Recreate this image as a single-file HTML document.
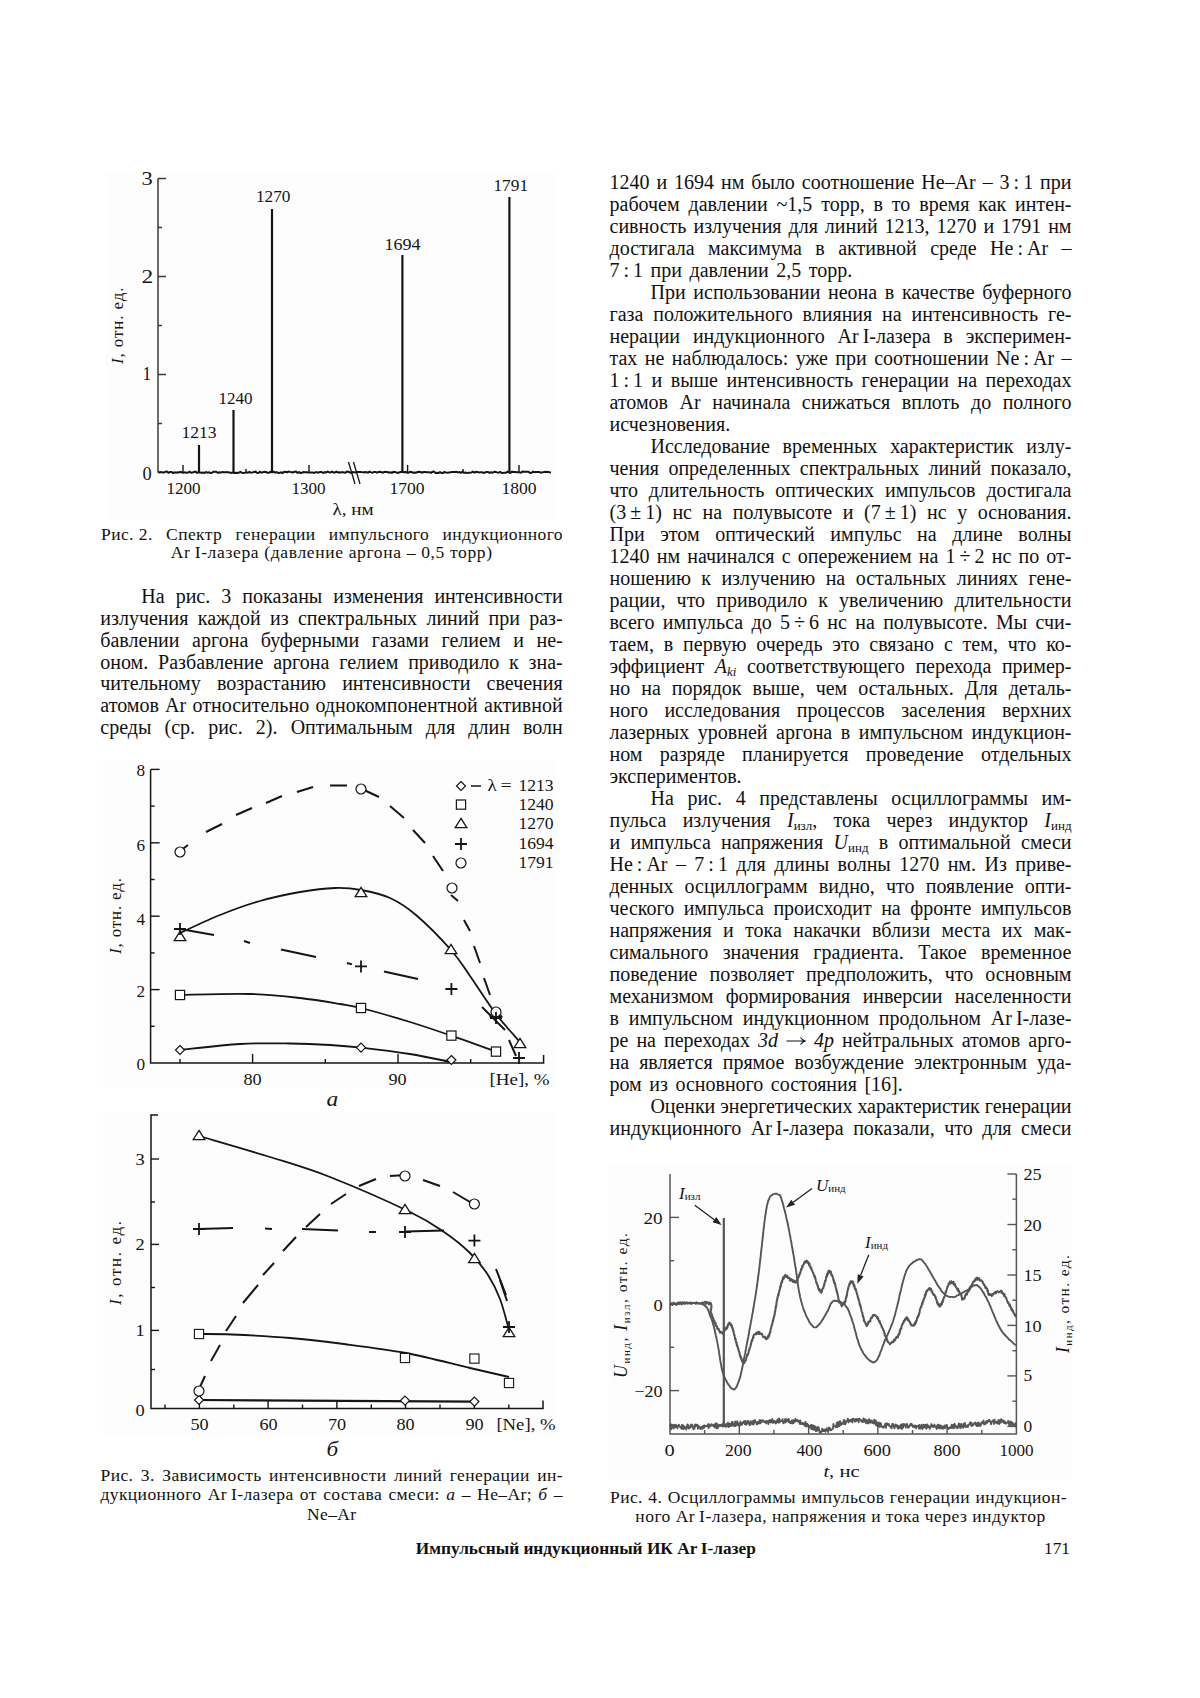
<!DOCTYPE html>
<html><head><meta charset="utf-8"><style>
html,body{margin:0;padding:0;background:#fff;}
body{width:1200px;height:1698px;position:relative;overflow:hidden;font-family:"Liberation Serif",serif;color:#111;}
.ln{position:absolute;white-space:nowrap;font-size:20px;line-height:22px;height:22px;}
.j{text-align:justify;text-align-last:justify;}
.l{text-align:left;word-spacing:2.5px;}
sub{font-size:13px;vertical-align:-3px;line-height:0;}
.cap{position:absolute;font-size:17.5px;line-height:19px;height:19px;white-space:nowrap;letter-spacing:0.4px;}
svg{position:absolute;left:0;top:0;}
</style></head><body>

<div class="ln j" style="left:609.5px;top:170.85px;width:462.0px">1240 и 1694 нм было соотношение He–Ar – 3&thinsp;:&thinsp;1 при</div>
<div class="ln j" style="left:609.5px;top:192.85px;width:462.0px">рабочем давлении ~1,5 торр, в то время как интен-</div>
<div class="ln j" style="left:609.5px;top:214.85px;width:462.0px">сивность излучения для линий 1213, 1270 и 1791 нм</div>
<div class="ln j" style="left:609.5px;top:236.85px;width:462.0px">достигала максимума в активной среде He&thinsp;:&thinsp;Ar –</div>
<div class="ln l" style="left:609.5px;top:258.85px;width:462.0px">7&thinsp;:&thinsp;1 при давлении 2,5 торр.</div>
<div class="ln j" style="left:650.5px;top:280.85px;width:421.0px">При использовании неона в качестве буферного</div>
<div class="ln j" style="left:609.5px;top:302.85px;width:462.0px">газа положительного влияния на интенсивность ге-</div>
<div class="ln j" style="left:609.5px;top:324.85px;width:462.0px">нерации индукционного Ar&thinsp;I-лазера в эксперимен-</div>
<div class="ln j" style="left:609.5px;top:346.85px;width:462.0px">тах не наблюдалось: уже при соотношении Ne&thinsp;:&thinsp;Ar –</div>
<div class="ln j" style="left:609.5px;top:368.85px;width:462.0px">1&thinsp;:&thinsp;1 и выше интенсивность генерации на переходах</div>
<div class="ln j" style="left:609.5px;top:390.85px;width:462.0px">атомов Ar начинала снижаться вплоть до полного</div>
<div class="ln l" style="left:609.5px;top:412.85px;width:462.0px">исчезновения.</div>
<div class="ln j" style="left:650.5px;top:434.85px;width:421.0px">Исследование временных характеристик излу-</div>
<div class="ln j" style="left:609.5px;top:456.85px;width:462.0px">чения определенных спектральных линий показало,</div>
<div class="ln j" style="left:609.5px;top:478.85px;width:462.0px">что длительность оптических импульсов достигала</div>
<div class="ln j" style="left:609.5px;top:500.85px;width:462.0px">(3&thinsp;±&thinsp;1) нс на полувысоте и (7&thinsp;±&thinsp;1) нс у основания.</div>
<div class="ln j" style="left:609.5px;top:522.85px;width:462.0px">При этом оптический импульс на длине волны</div>
<div class="ln j" style="left:609.5px;top:544.85px;width:462.0px">1240 нм начинался с опережением на 1&thinsp;÷&thinsp;2 нс по от-</div>
<div class="ln j" style="left:609.5px;top:566.85px;width:462.0px">ношению к излучению на остальных линиях гене-</div>
<div class="ln j" style="left:609.5px;top:588.85px;width:462.0px">рации, что приводило к увеличению длительности</div>
<div class="ln j" style="left:609.5px;top:610.85px;width:462.0px">всего импульса до 5&thinsp;÷&thinsp;6 нс на полувысоте. Мы счи-</div>
<div class="ln j" style="left:609.5px;top:632.85px;width:462.0px">таем, в первую очередь это связано с тем, что ко-</div>
<div class="ln j" style="left:609.5px;top:654.85px;width:462.0px">эффициент <i>A</i><sub><i>ki</i></sub> соответствующего перехода пример-</div>
<div class="ln j" style="left:609.5px;top:676.85px;width:462.0px">но на порядок выше, чем остальных. Для деталь-</div>
<div class="ln j" style="left:609.5px;top:698.85px;width:462.0px">ного исследования процессов заселения верхних</div>
<div class="ln j" style="left:609.5px;top:720.85px;width:462.0px">лазерных уровней аргона в импульсном индукцион-</div>
<div class="ln j" style="left:609.5px;top:742.85px;width:462.0px">ном разряде планируется проведение отдельных</div>
<div class="ln l" style="left:609.5px;top:764.85px;width:462.0px">экспериментов.</div>
<div class="ln j" style="left:650.5px;top:786.85px;width:421.0px">На рис. 4 представлены осциллограммы им-</div>
<div class="ln j" style="left:609.5px;top:808.85px;width:462.0px">пульса излучения <i>I</i><sub>изл</sub>, тока через индуктор <i>I</i><sub>инд</sub></div>
<div class="ln j" style="left:609.5px;top:830.85px;width:462.0px">и импульса напряжения <i>U</i><sub>инд</sub> в оптимальной смеси</div>
<div class="ln j" style="left:609.5px;top:852.85px;width:462.0px">He&thinsp;:&thinsp;Ar – 7&thinsp;:&thinsp;1 для длины волны 1270 нм. Из приве-</div>
<div class="ln j" style="left:609.5px;top:874.85px;width:462.0px">денных осциллограмм видно, что появление опти-</div>
<div class="ln j" style="left:609.5px;top:896.85px;width:462.0px">ческого импульса происходит на фронте импульсов</div>
<div class="ln j" style="left:609.5px;top:918.85px;width:462.0px">напряжения и тока накачки вблизи места их мак-</div>
<div class="ln j" style="left:609.5px;top:940.85px;width:462.0px">симального значения градиента. Такое временное</div>
<div class="ln j" style="left:609.5px;top:962.85px;width:462.0px">поведение позволяет предположить, что основным</div>
<div class="ln j" style="left:609.5px;top:984.85px;width:462.0px">механизмом формирования инверсии населенности</div>
<div class="ln j" style="left:609.5px;top:1006.85px;width:462.0px">в импульсном индукционном продольном Ar&thinsp;I-лазе-</div>
<div class="ln j" style="left:609.5px;top:1028.85px;width:462.0px">ре на переходах <i>3d</i> <svg width='20' height='10' viewBox='0 0 20 10' style='position:static;vertical-align:1px'><path d='M0.5,5 H18.5 M14.5,1.5 Q16.5,4.2 19.2,5 Q16.5,5.8 14.5,8.5' stroke='#111' stroke-width='1.1' fill='none'/></svg> <i>4p</i> нейтральных атомов арго-</div>
<div class="ln j" style="left:609.5px;top:1050.85px;width:462.0px">на является прямое возбуждение электронным уда-</div>
<div class="ln l" style="left:609.5px;top:1072.85px;width:462.0px">ром из основного состояния [16].</div>
<div class="ln j" style="left:650.5px;top:1094.85px;width:421.0px"><span style="letter-spacing:-0.08px">Оценки энергетических характеристик генерации</span></div>
<div class="ln j" style="left:609.5px;top:1116.85px;width:462.0px">индукционного Ar&thinsp;I-лазера показали, что для смеси</div>
<div class="ln j" style="left:141.3px;top:584.95px;width:421.4px">На рис. 3 показаны изменения интенсивности</div>
<div class="ln j" style="left:100.3px;top:606.80px;width:462.4px">излучения каждой из спектральных линий при раз-</div>
<div class="ln j" style="left:100.3px;top:628.65px;width:462.4px">бавлении аргона буферными газами гелием и не-</div>
<div class="ln j" style="left:100.3px;top:650.50px;width:462.4px">оном. Разбавление аргона гелием приводило к зна-</div>
<div class="ln j" style="left:100.3px;top:672.35px;width:462.4px">чительному возрастанию интенсивности свечения</div>
<div class="ln j" style="left:100.3px;top:694.20px;width:462.4px">атомов Ar относительно однокомпонентной активной</div>
<div class="ln j" style="left:100.3px;top:716.05px;width:462.4px">среды (ср. рис. 2). Оптимальным для длин волн</div>
<div class="cap j" style="left:101px;top:525.0px;width:462px">Рис.<span style="display:inline-block;width:5px"></span>2. Спектр генерации импульсного индукционного</div>
<div class="cap" style="left:100.5px;top:543.2px;width:462.5px;text-align:center;letter-spacing:0.65px">Ar&thinsp;I-лазера (давление аргона – 0,5 торр)</div>
<div class="cap j" style="left:100.5px;top:1465.6px;width:462.5px">Рис. 3. Зависимость интенсивности линий генерации ин-</div>
<div class="cap j" style="left:100.5px;top:1485.3px;width:462.5px">дукционного Ar&thinsp;I-лазера от состава смеси: <i>а</i> – He–Ar; <i>б</i> –</div>
<div class="cap" style="left:100.5px;top:1504.6px;width:462.5px;text-align:center;letter-spacing:0.4px">Ne–Ar</div>
<div class="cap j" style="left:610px;top:1487.6px;width:457px">Рис. 4. Осциллограммы импульсов генерации индукцион-</div>
<div class="cap" style="left:610px;top:1506.6px;width:461px;text-align:center;letter-spacing:0.48px">ного Ar&thinsp;I-лазера, напряжения и тока через индуктор</div>
<div style="position:absolute;left:415.8px;top:1539px;font-size:17.3px;line-height:19px;font-weight:bold;white-space:nowrap">Импульсный индукционный ИК Ar&thinsp;I-лазер</div>
<div style="position:absolute;left:1044px;top:1539px;font-size:17.3px;line-height:19px;white-space:nowrap">171</div>
<svg width="1200" height="1698" viewBox="0 0 1200 1698" style="font-family:'Liberation Serif',serif" fill="none" stroke="#151515">
<rect x="106" y="171" width="451" height="348" fill="#fdfdfd" stroke="none"/>
<rect x="103" y="761" width="455" height="327" fill="#fdfdfd" stroke="none"/>
<rect x="103" y="1112" width="455" height="322" fill="#fdfdfd" stroke="none"/>
<rect x="609" y="1164" width="462" height="316" fill="#fdfdfd" stroke="none"/>
<path d="M158,178.5 V472.5" stroke-width="1.5" stroke="#3a3a3a"/>
<path d="M158,178.5 h8" stroke-width="1.5" stroke="#3a3a3a"/>
<path d="M158,227.5 h4" stroke-width="1.5" stroke="#3a3a3a"/>
<path d="M158,276.5 h8" stroke-width="1.5" stroke="#3a3a3a"/>
<path d="M158,325.5 h4" stroke-width="1.5" stroke="#3a3a3a"/>
<path d="M158,374.5 h8" stroke-width="1.5" stroke="#3a3a3a"/>
<path d="M158,423.5 h4" stroke-width="1.5" stroke="#3a3a3a"/>
<path d="M158.0,471.93 L159.5,472.36 L161.0,472.12 L162.5,472.45 L164.0,472.48 L165.5,471.69 L167.0,471.62 L168.5,472.77 L170.0,471.96 L171.5,471.93 L173.0,472.99 L174.5,472.26 L176.0,472.77 L177.5,472.27 L179.0,472.49 L180.5,471.81 L182.0,472.49 L183.5,472.82 L185.0,472.33 L186.5,472.64 L188.0,472.54 L189.5,471.69 L191.0,472.66 L192.5,472.43 L194.0,472.02 L195.5,471.64 L197.0,472.81 L198.5,472.26 L200.0,472.61 L201.5,472.83 L203.0,472.60 L204.5,472.89 L206.0,472.15 L207.5,472.72 L209.0,472.22 L210.5,472.91 L212.0,472.83 L213.5,471.74 L215.0,471.79 L216.5,471.90 L218.0,472.95 L219.5,472.21 L221.0,472.48 L222.5,472.02 L224.0,472.31 L225.5,472.14 L227.0,472.09 L228.5,472.42 L230.0,472.42 L231.5,472.87 L233.0,472.55 L234.5,472.90 L236.0,472.80 L237.5,472.99 L239.0,472.54 L240.5,471.83 L242.0,472.80 L243.5,472.95 L245.0,472.87 L246.5,472.40 L248.0,472.60 L249.5,471.90 L251.0,472.76 L252.5,472.40 L254.0,472.00 L255.5,471.69 L257.0,472.80 L258.5,472.99 L260.0,471.72 L261.5,472.72 L263.0,472.17 L264.5,471.81 L266.0,472.01 L267.5,472.68 L269.0,472.82 L270.5,471.66 L272.0,472.46 L273.5,471.66 L275.0,472.61 L276.5,472.06 L278.0,472.83 L279.5,472.97 L281.0,472.31 L282.5,473.00 L284.0,472.03 L285.5,471.71 L287.0,472.44 L288.5,471.64 L290.0,471.88 L291.5,472.17 L293.0,472.45 L294.5,471.82 L296.0,471.66 L297.5,472.81 L299.0,472.04 L300.5,472.94 L302.0,472.86 L303.5,472.13 L305.0,472.24 L306.5,472.33 L308.0,472.50 L309.5,472.43 L311.0,472.38 L312.5,472.47 L314.0,472.92 L315.5,472.31 L317.0,472.20 L318.5,472.61 L320.0,471.93 L321.5,472.02 L323.0,472.97 L324.5,472.33 L326.0,472.37 L327.5,471.62 L329.0,472.18 L330.5,472.41 L332.0,471.63 L333.5,472.46 L335.0,472.49 L336.5,471.68 L338.0,472.48 L339.5,472.25 L341.0,472.55 L342.5,472.09 L344.0,472.59 L345.5,472.63 L347.0,471.63 L348.5,471.68 L350.0,472.55 L351.5,472.95 L353.0,471.95 L354.5,472.24 L356.0,472.43 L357.5,472.05 L359.0,472.11 L360.5,472.04 L362.0,472.12 L363.5,472.43 L365.0,472.02 L366.5,472.13 L368.0,472.68 L369.5,471.64 L371.0,472.40 L372.5,472.63 L374.0,472.03 L375.5,471.91 L377.0,472.73 L378.5,471.93 L380.0,471.86 L381.5,472.21 L383.0,472.58 L384.5,471.74 L386.0,472.05 L387.5,472.07 L389.0,472.77 L390.5,472.21 L392.0,472.80 L393.5,471.84 L395.0,472.07 L396.5,472.51 L398.0,472.84 L399.5,472.23 L401.0,471.92 L402.5,471.77 L404.0,472.34 L405.5,471.87 L407.0,472.73 L408.5,472.77 L410.0,471.86 L411.5,471.99 L413.0,472.73 L414.5,472.50 L416.0,472.73 L417.5,472.08 L419.0,471.78 L420.5,472.01 L422.0,472.71 L423.5,471.98 L425.0,472.08 L426.5,472.18 L428.0,472.19 L429.5,472.17 L431.0,472.89 L432.5,471.82 L434.0,471.61 L435.5,472.92 L437.0,472.83 L438.5,472.98 L440.0,472.21 L441.5,472.93 L443.0,472.90 L444.5,471.91 L446.0,472.64 L447.5,472.77 L449.0,472.53 L450.5,472.33 L452.0,472.00 L453.5,472.08 L455.0,471.92 L456.5,471.70 L458.0,472.42 L459.5,472.00 L461.0,472.73 L462.5,471.66 L464.0,472.87 L465.5,472.57 L467.0,472.89 L468.5,472.86 L470.0,472.86 L471.5,472.41 L473.0,471.62 L474.5,472.64 L476.0,471.84 L477.5,472.02 L479.0,472.53 L480.5,472.33 L482.0,472.18 L483.5,472.91 L485.0,472.46 L486.5,472.08 L488.0,471.95 L489.5,472.81 L491.0,472.27 L492.5,472.70 L494.0,472.09 L495.5,471.88 L497.0,472.35 L498.5,472.74 L500.0,471.84 L501.5,472.71 L503.0,472.89 L504.5,472.73 L506.0,472.75 L507.5,471.61 L509.0,472.48 L510.5,472.81 L512.0,471.67 L513.5,471.98 L515.0,471.98 L516.5,472.34 L518.0,472.19 L519.5,472.26 L521.0,472.69 L522.5,471.60 L524.0,471.68 L525.5,471.78 L527.0,471.77 L528.5,471.70 L530.0,472.96 L531.5,472.80 L533.0,471.72 L534.5,472.30 L536.0,472.04 L537.5,472.04 L539.0,472.09 L540.5,472.51 L542.0,472.42 L543.5,472.11 L545.0,471.87 L546.5,472.06 L548.0,471.77 L549.5,472.38 L551.0,472.60" stroke-width="2"/>
<path d="M183,472 v-7" stroke-width="1.4"/>
<path d="M246,472 v-3" stroke-width="1.4"/>
<path d="M309,472 v-7" stroke-width="1.4"/>
<path d="M407.6,472 v-7" stroke-width="1.4"/>
<path d="M463,472 v-3" stroke-width="1.4"/>
<path d="M519,472 v-7" stroke-width="1.4"/>
<path d="M348.5,462 L355,484 M353.5,462 L360,484" stroke-width="1.3"/>
<path d="M199,445 V472" stroke-width="2.2"/>
<path d="M233.5,410 V472" stroke-width="2.2"/>
<path d="M272,209 V472" stroke-width="2.2"/>
<path d="M402.4,255 V472" stroke-width="2.2"/>
<path d="M509.4,197 V472" stroke-width="2.2"/>
<text x="181.4" y="437.6" font-size="17.5" textLength="35.2" lengthAdjust="spacingAndGlyphs" fill="#151515" stroke="none">1213</text>
<text x="218.4" y="403.6" font-size="17.5" textLength="34.2" lengthAdjust="spacingAndGlyphs" fill="#151515" stroke="none">1240</text>
<text x="255.9" y="201.7" font-size="17.5" textLength="34.5" lengthAdjust="spacingAndGlyphs" fill="#151515" stroke="none">1270</text>
<text x="384.4" y="249.6" font-size="17.5" textLength="36.2" lengthAdjust="spacingAndGlyphs" fill="#151515" stroke="none">1694</text>
<text x="493.4" y="191" font-size="17.5" textLength="34.7" lengthAdjust="spacingAndGlyphs" fill="#151515" stroke="none">1791</text>
<text x="141.4" y="185" font-size="18" textLength="11.2" lengthAdjust="spacingAndGlyphs" fill="#151515" stroke="none">3</text>
<text x="141.4" y="283" font-size="18" textLength="11.7" lengthAdjust="spacingAndGlyphs" fill="#151515" stroke="none">2</text>
<text x="142.4" y="380" font-size="18" textLength="8.7" lengthAdjust="spacingAndGlyphs" fill="#151515" stroke="none">1</text>
<text x="142.4" y="479.6" font-size="18" textLength="9.2" lengthAdjust="spacingAndGlyphs" fill="#151515" stroke="none">0</text>
<text x="166.4" y="493.6" font-size="17.5" textLength="34.2" lengthAdjust="spacingAndGlyphs" fill="#151515" stroke="none">1200</text>
<text x="291.4" y="493.6" font-size="17.5" textLength="34.2" lengthAdjust="spacingAndGlyphs" fill="#151515" stroke="none">1300</text>
<text x="389.4" y="493.6" font-size="17.5" textLength="35.2" lengthAdjust="spacingAndGlyphs" fill="#151515" stroke="none">1700</text>
<text x="501.4" y="493.6" font-size="17.5" textLength="35.2" lengthAdjust="spacingAndGlyphs" fill="#151515" stroke="none">1800</text>
<text x="332.4" y="514.5" font-size="17" textLength="41.2" lengthAdjust="spacingAndGlyphs" fill="#151515" stroke="none">λ, нм</text>
<text transform="translate(123,364) rotate(-90)" font-size="17" textLength="76.5" lengthAdjust="spacing" fill="#151515" stroke="none"><tspan font-style="italic">I</tspan>, отн. ед.</text>
<path d="M150.6,769.6 V1063 H543.6 v-8" stroke-width="1.5"/>
<path d="M150.6,1026.3 h4" stroke-width="1.4"/>
<path d="M150.6,989.6 h9" stroke-width="1.4"/>
<path d="M150.6,952.9 h4" stroke-width="1.4"/>
<path d="M150.6,916.2 h9" stroke-width="1.4"/>
<path d="M150.6,879.5 h4" stroke-width="1.4"/>
<path d="M150.6,842.8 h9" stroke-width="1.4"/>
<path d="M150.6,806.1 h4" stroke-width="1.4"/>
<path d="M150.6,769.4 h9" stroke-width="1.4"/>
<path d="M180,1063 v-4" stroke-width="1.4"/>
<path d="M252.6,1063 v-9" stroke-width="1.4"/>
<path d="M325.3,1063 v-4" stroke-width="1.4"/>
<path d="M398,1063 v-9" stroke-width="1.4"/>
<path d="M470.7,1063 v-4" stroke-width="1.4"/>
<text x="136.4" y="776" font-size="17.5" textLength="8.6" lengthAdjust="spacingAndGlyphs" fill="#151515" stroke="none">8</text>
<text x="136.4" y="851" font-size="17.5" textLength="8.6" lengthAdjust="spacingAndGlyphs" fill="#151515" stroke="none">6</text>
<text x="136.4" y="925" font-size="17.5" textLength="8.6" lengthAdjust="spacingAndGlyphs" fill="#151515" stroke="none">4</text>
<text x="136.4" y="997" font-size="17.5" textLength="8.6" lengthAdjust="spacingAndGlyphs" fill="#151515" stroke="none">2</text>
<text x="136.4" y="1069.6" font-size="17.5" textLength="8.6" lengthAdjust="spacingAndGlyphs" fill="#151515" stroke="none">0</text>
<text x="243.4" y="1085" font-size="17.5" textLength="18.2" lengthAdjust="spacingAndGlyphs" fill="#151515" stroke="none">80</text>
<text x="388.4" y="1085" font-size="17.5" textLength="18.2" lengthAdjust="spacingAndGlyphs" fill="#151515" stroke="none">90</text>
<text x="489.4" y="1085" font-size="17" textLength="60.2" lengthAdjust="spacingAndGlyphs" fill="#151515" stroke="none">[He], %</text>
<text x="326.4" y="1106" font-size="20" textLength="11.7" lengthAdjust="spacingAndGlyphs" fill="#151515" stroke="none"><tspan font-style="italic">а</tspan></text>
<text transform="translate(121,954) rotate(-90)" font-size="17" textLength="76.0" lengthAdjust="spacing" fill="#151515" stroke="none"><tspan font-style="italic">I</tspan>, отн. ед.</text>
<path d="M180.0,1050.0 C190.0,1049.0 221.7,1045.1 240.0,1044.0 C258.3,1042.9 275.0,1043.3 290.0,1043.5 C305.0,1043.7 318.2,1044.3 330.0,1045.0 C341.8,1045.7 347.7,1046.1 361.0,1047.6 C374.3,1049.1 395.0,1051.6 410.0,1054.0 C425.0,1056.4 444.2,1060.7 451.0,1062.0" stroke-width="1.8"/>
<path d="M180.0,995.0 C191.7,994.8 230.0,993.5 250.0,994.0 C270.0,994.5 285.0,996.3 300.0,998.0 C315.0,999.7 329.8,1002.3 340.0,1004.0 C350.2,1005.7 349.3,1005.0 361.0,1008.0 C372.7,1011.0 395.0,1017.4 410.0,1022.0 C425.0,1026.6 436.7,1030.7 451.0,1035.6 C465.3,1040.5 488.5,1048.9 496.0,1051.6" stroke-width="1.8"/>
<path d="M180.0,933.0 C186.7,930.0 206.7,920.3 220.0,915.0 C233.3,909.7 246.7,904.8 260.0,901.0 C273.3,897.2 287.5,894.2 300.0,892.0 C312.5,889.8 324.8,888.3 335.0,888.0 C345.2,887.7 351.8,888.3 361.0,890.0 C370.2,891.7 380.8,893.8 390.0,898.0 C399.2,902.2 405.8,906.3 416.0,915.0 C426.2,923.7 442.0,939.8 451.0,950.0 C460.0,960.2 462.5,965.3 470.0,976.0 C477.5,986.7 487.7,1003.0 496.0,1014.0 C504.3,1025.0 516.0,1037.3 520.0,1042.0" stroke-width="1.8"/>
<path d="M180.0,929.0 L214.0,935.0" stroke-width="2"/>
<path d="M244.0,941.0 L250.0,943.0" stroke-width="2"/>
<path d="M281.0,949.6 L316.0,957.0" stroke-width="2"/>
<path d="M347.0,963.0 L352.0,964.4" stroke-width="2"/>
<path d="M384.0,971.6 L418.0,979.0" stroke-width="2"/>
<path d="M482.0,1007.0 L505.0,1030.0" stroke-width="2"/>
<path d="M509.0,1040.0 L516.0,1056.0" stroke-width="2"/>
<path d="M180.0,851.0 L188.0,845.0" stroke-width="2"/>
<path d="M206.0,832.0 L222.0,824.0" stroke-width="2"/>
<path d="M236.0,815.0 L252.0,808.0" stroke-width="2"/>
<path d="M266.0,803.0 L282.0,796.0" stroke-width="2"/>
<path d="M297.0,792.0 L313.0,787.0" stroke-width="2"/>
<path d="M330.0,785.5 L347.0,785.4" stroke-width="2"/>
<path d="M364.0,790.0 L379.0,797.0" stroke-width="2"/>
<path d="M390.0,806.0 L404.0,818.0" stroke-width="2"/>
<path d="M413.0,830.0 L425.0,843.0" stroke-width="2"/>
<path d="M433.0,856.0 L443.0,871.0" stroke-width="2"/>
<path d="M451.0,895.0 L458.0,901.0" stroke-width="2"/>
<path d="M464.0,920.0 L470.0,931.0" stroke-width="2"/>
<path d="M474.0,946.0 L480.0,963.0" stroke-width="2"/>
<path d="M484.0,978.0 L490.0,995.0" stroke-width="2"/>
<path d="M180,1045.5 L184.5,1050 L180,1054.5 L175.5,1050 Z" fill="#fff" stroke-width="1.2"/>
<path d="M361,1043.1 L365.5,1047.6 L361,1052.1 L356.5,1047.6 Z" fill="#fff" stroke-width="1.2"/>
<path d="M451.4,1055.5 L455.9,1060 L451.4,1064.5 L446.9,1060 Z" fill="#fff" stroke-width="1.2"/>
<rect x="175.4" y="990.4" width="9.2" height="9.2" fill="#fff" stroke-width="1.2"/>
<rect x="356.4" y="1003.4" width="9.2" height="9.2" fill="#fff" stroke-width="1.2"/>
<rect x="446.79999999999995" y="1031.0" width="9.2" height="9.2" fill="#fff" stroke-width="1.2"/>
<rect x="491.4" y="1047.0" width="9.2" height="9.2" fill="#fff" stroke-width="1.2"/>
<path d="M180,931.432 L185.8,940.712 L174.2,940.712 Z" fill="#fff" stroke-width="1.3"/>
<path d="M361,887.432 L366.8,896.712 L355.2,896.712 Z" fill="#fff" stroke-width="1.3"/>
<path d="M451,944.432 L456.8,953.712 L445.2,953.712 Z" fill="#fff" stroke-width="1.3"/>
<path d="M496,1007.432 L501.8,1016.712 L490.2,1016.712 Z" fill="#fff" stroke-width="1.3"/>
<path d="M520,1038.432 L525.8,1047.712 L514.2,1047.712 Z" fill="#fff" stroke-width="1.3"/>
<circle cx="361" cy="789" r="5" fill="#fff" stroke-width="1.2"/>
<circle cx="452" cy="888" r="5" fill="#fff" stroke-width="1.2"/>
<circle cx="180" cy="852" r="5" fill="#fff" stroke-width="1.2"/>
<circle cx="496" cy="1012" r="5" fill="#fff" stroke-width="1.2"/>
<path d="M174,929 h12 M180,923 v12" stroke-width="1.8"/>
<path d="M355,966.4 h12 M361,960.4 v12" stroke-width="1.8"/>
<path d="M445.4,989 h12 M451.4,983 v12" stroke-width="1.8"/>
<path d="M490,1018 h12 M496,1012 v12" stroke-width="1.8"/>
<path d="M513,1058 h12 M519,1052 v12" stroke-width="1.8"/>
<path d="M461,781.5 L465.5,786 L461,790.5 L456.5,786 Z" fill="#fff" stroke-width="1.2"/>
<text x="518.4" y="791" font-size="17.5" textLength="35.2" lengthAdjust="spacingAndGlyphs" fill="#151515" stroke="none">1213</text>
<rect x="456.4" y="800.0" width="9.2" height="9.2" fill="#fff" stroke-width="1.2"/>
<text x="518.4" y="809.6" font-size="17.5" textLength="35.2" lengthAdjust="spacingAndGlyphs" fill="#151515" stroke="none">1240</text>
<path d="M461,818.432 L466.8,827.712 L455.2,827.712 Z" fill="#fff" stroke-width="1.3"/>
<text x="518.4" y="829" font-size="17.5" textLength="35.2" lengthAdjust="spacingAndGlyphs" fill="#151515" stroke="none">1270</text>
<path d="M455,844 h12 M461,838 v12" stroke-width="1.8"/>
<text x="518.4" y="849" font-size="17.5" textLength="35.2" lengthAdjust="spacingAndGlyphs" fill="#151515" stroke="none">1694</text>
<circle cx="461" cy="863" r="5" fill="#fff" stroke-width="1.2"/>
<text x="518.4" y="868" font-size="17.5" textLength="35.2" lengthAdjust="spacingAndGlyphs" fill="#151515" stroke="none">1791</text>
<path d="M471,786 h10" stroke-width="1.5"/>
<text x="487.4" y="791" font-size="17.5" textLength="9.2" lengthAdjust="spacingAndGlyphs" fill="#151515" stroke="none">λ</text>
<text x="500.4" y="791" font-size="17.5" textLength="11.2" lengthAdjust="spacingAndGlyphs" fill="#151515" stroke="none">=</text>
<path d="M158,1115 H151 V1408.6 H543 v-8" stroke-width="1.5"/>
<path d="M151,1159 h8" stroke-width="1.4"/>
<path d="M151,1202 h4" stroke-width="1.4"/>
<path d="M151,1244.4 h8" stroke-width="1.4"/>
<path d="M151,1287.5 h4" stroke-width="1.4"/>
<path d="M151,1330.4 h8" stroke-width="1.4"/>
<path d="M151,1369.5 h4" stroke-width="1.4"/>
<path d="M165.0,1408.6 v-4" stroke-width="1.4"/>
<path d="M199.4,1408.6 v-8" stroke-width="1.4"/>
<path d="M233.8,1408.6 v-4" stroke-width="1.4"/>
<path d="M268.1,1408.6 v-8" stroke-width="1.4"/>
<path d="M302.5,1408.6 v-4" stroke-width="1.4"/>
<path d="M336.9,1408.6 v-8" stroke-width="1.4"/>
<path d="M371.3,1408.6 v-4" stroke-width="1.4"/>
<path d="M405.6,1408.6 v-8" stroke-width="1.4"/>
<path d="M440.0,1408.6 v-4" stroke-width="1.4"/>
<path d="M474.4,1408.6 v-8" stroke-width="1.4"/>
<path d="M508.8,1408.6 v-4" stroke-width="1.4"/>
<text x="135.4" y="1165" font-size="17.5" textLength="9.2" lengthAdjust="spacingAndGlyphs" fill="#151515" stroke="none">3</text>
<text x="135.4" y="1250" font-size="17.5" textLength="9.2" lengthAdjust="spacingAndGlyphs" fill="#151515" stroke="none">2</text>
<text x="135.4" y="1336" font-size="17.5" textLength="9.2" lengthAdjust="spacingAndGlyphs" fill="#151515" stroke="none">1</text>
<text x="135.4" y="1415.6" font-size="17.5" textLength="9.2" lengthAdjust="spacingAndGlyphs" fill="#151515" stroke="none">0</text>
<text x="190.4" y="1430" font-size="17.5" textLength="18.2" lengthAdjust="spacingAndGlyphs" fill="#151515" stroke="none">50</text>
<text x="259.4" y="1430" font-size="17.5" textLength="18.2" lengthAdjust="spacingAndGlyphs" fill="#151515" stroke="none">60</text>
<text x="327.9" y="1430" font-size="17.5" textLength="18.2" lengthAdjust="spacingAndGlyphs" fill="#151515" stroke="none">70</text>
<text x="396.4" y="1430" font-size="17.5" textLength="18.2" lengthAdjust="spacingAndGlyphs" fill="#151515" stroke="none">80</text>
<text x="465.4" y="1430" font-size="17.5" textLength="18.2" lengthAdjust="spacingAndGlyphs" fill="#151515" stroke="none">90</text>
<text x="496.4" y="1430" font-size="17" textLength="59.2" lengthAdjust="spacingAndGlyphs" fill="#151515" stroke="none">[Ne], %</text>
<text x="326.4" y="1456" font-size="20" textLength="11.7" lengthAdjust="spacingAndGlyphs" fill="#151515" stroke="none"><tspan font-style="italic">б</tspan></text>
<text transform="translate(121,1305) rotate(-90)" font-size="17" textLength="84.0" lengthAdjust="spacing" fill="#151515" stroke="none"><tspan font-style="italic">I</tspan>, отн. ед.</text>
<path d="M199.0,1136.0 C210.8,1139.5 248.2,1150.2 270.0,1157.0 C291.8,1163.8 306.7,1167.8 330.0,1177.0 C353.3,1186.2 391.0,1202.8 410.0,1212.0 C429.0,1221.2 434.0,1225.2 444.0,1232.0 C454.0,1238.8 462.7,1245.8 470.0,1253.0 C477.3,1260.2 483.0,1267.3 488.0,1275.0 C493.0,1282.7 496.5,1289.8 500.0,1299.0 C503.5,1308.2 507.5,1324.8 509.0,1330.0" stroke-width="1.8"/>
<path d="M199.0,1334.0 C204.5,1334.1 216.8,1333.8 232.0,1334.5 C247.2,1335.2 272.0,1336.5 290.0,1338.0 C308.0,1339.5 320.7,1341.0 340.0,1343.5 C359.3,1346.0 384.3,1348.9 406.0,1353.0 C427.7,1357.1 452.8,1364.0 470.0,1368.0 C487.2,1372.0 502.5,1375.5 509.0,1377.0" stroke-width="1.8"/>
<path d="M199,1400 L474,1401.6" stroke-width="2.2"/>
<path d="M199.0,1229.0 L233.0,1228.0" stroke-width="2"/>
<path d="M265.0,1228.6 L272.0,1229.0" stroke-width="2"/>
<path d="M302.0,1229.0 L338.0,1230.6" stroke-width="2"/>
<path d="M369.0,1232.0 L376.0,1232.0" stroke-width="2"/>
<path d="M406.0,1231.4 L444.0,1230.6" stroke-width="2"/>
<path d="M496.0,1269.0 L506.0,1295.0" stroke-width="2"/>
<path d="M500.0,1280.0 L507.0,1301.0" stroke-width="2"/>
<path d="M199.0,1389.0 L205.0,1376.0" stroke-width="2"/>
<path d="M211.0,1361.0 L220.0,1345.0" stroke-width="2"/>
<path d="M226.0,1331.0 L236.0,1316.0" stroke-width="2"/>
<path d="M243.0,1303.0 L258.0,1285.0" stroke-width="2"/>
<path d="M263.0,1275.0 L274.0,1263.0" stroke-width="2"/>
<path d="M283.0,1251.0 L296.0,1237.0" stroke-width="2"/>
<path d="M306.0,1227.0 L320.0,1214.0" stroke-width="2"/>
<path d="M331.0,1204.0 L346.0,1194.0" stroke-width="2"/>
<path d="M359.0,1186.0 L376.0,1179.0" stroke-width="2"/>
<path d="M390.0,1176.0 L406.0,1175.0" stroke-width="2"/>
<path d="M423.0,1180.0 L440.0,1186.0" stroke-width="2"/>
<path d="M453.0,1192.0 L470.0,1202.0" stroke-width="2"/>
<path d="M199,1395.5 L203.5,1400 L199,1404.5 L194.5,1400 Z" fill="#fff" stroke-width="1.2"/>
<path d="M405,1396.1 L409.5,1400.6 L405,1405.1 L400.5,1400.6 Z" fill="#fff" stroke-width="1.2"/>
<path d="M474.4,1397.1 L478.9,1401.6 L474.4,1406.1 L469.9,1401.6 Z" fill="#fff" stroke-width="1.2"/>
<rect x="194.4" y="1329.4" width="9.2" height="9.2" fill="#fff" stroke-width="1.1"/>
<rect x="400.4" y="1353.4" width="9.2" height="9.2" fill="#fff" stroke-width="1.1"/>
<rect x="469.79999999999995" y="1354.0" width="9.2" height="9.2" fill="#fff" stroke-width="1.1"/>
<rect x="504.4" y="1378.4" width="9.2" height="9.2" fill="#fff" stroke-width="1.1"/>
<path d="M199,1130.432 L204.8,1139.712 L193.2,1139.712 Z" fill="#fff" stroke-width="1.3"/>
<path d="M405,1204.432 L410.8,1213.712 L399.2,1213.712 Z" fill="#fff" stroke-width="1.3"/>
<path d="M474.4,1253.432 L480.2,1262.712 L468.59999999999997,1262.712 Z" fill="#fff" stroke-width="1.3"/>
<path d="M509,1327.432 L514.8,1336.712 L503.2,1336.712 Z" fill="#fff" stroke-width="1.3"/>
<circle cx="199" cy="1391" r="5" fill="#fff" stroke-width="1.2"/>
<circle cx="405" cy="1176" r="5" fill="#fff" stroke-width="1.2"/>
<circle cx="474.4" cy="1204" r="5" fill="#fff" stroke-width="1.2"/>
<path d="M193,1229 h12 M199,1223 v12" stroke-width="1.8"/>
<path d="M399,1232 h12 M405,1226 v12" stroke-width="1.8"/>
<path d="M468.4,1240.6 h12 M474.4,1234.6 v12" stroke-width="1.8"/>
<path d="M503,1327 h12 M509,1321 v12" stroke-width="1.8"/>
<g stroke="#555555">
<path d="M670,1174 V1434 H1016.4 V1174" stroke-width="1.5"/>
<path d="M670,1217.4 h9" stroke-width="1.4"/>
<path d="M670,1260.7 h4" stroke-width="1.4"/>
<path d="M670,1304.0 h9" stroke-width="1.4"/>
<path d="M670,1347.3 h4" stroke-width="1.4"/>
<path d="M670,1390.6 h9" stroke-width="1.4"/>
<path d="M1016.4,1174.0 h-9" stroke-width="1.4"/>
<path d="M1016.4,1199.2 h-4" stroke-width="1.4"/>
<path d="M1016.4,1224.5 h-9" stroke-width="1.4"/>
<path d="M1016.4,1249.7 h-4" stroke-width="1.4"/>
<path d="M1016.4,1275.0 h-9" stroke-width="1.4"/>
<path d="M1016.4,1300.2 h-4" stroke-width="1.4"/>
<path d="M1016.4,1325.4 h-9" stroke-width="1.4"/>
<path d="M1016.4,1350.7 h-4" stroke-width="1.4"/>
<path d="M1016.4,1375.9 h-9" stroke-width="1.4"/>
<path d="M1016.4,1401.2 h-4" stroke-width="1.4"/>
<path d="M1016.4,1426.4 h-9" stroke-width="1.4"/>
<path d="M704.6,1434 v-4" stroke-width="1.4"/>
<path d="M739.3,1434 v-8" stroke-width="1.4"/>
<path d="M773.9,1434 v-4" stroke-width="1.4"/>
<path d="M808.6,1434 v-8" stroke-width="1.4"/>
<path d="M843.2,1434 v-4" stroke-width="1.4"/>
<path d="M877.8,1434 v-8" stroke-width="1.4"/>
<path d="M912.5,1434 v-4" stroke-width="1.4"/>
<path d="M947.1,1434 v-8" stroke-width="1.4"/>
<path d="M981.8,1434 v-4" stroke-width="1.4"/>
</g>
<text x="664.4" y="1456" font-size="17.5" textLength="10.2" lengthAdjust="spacingAndGlyphs" fill="#151515" stroke="none">0</text>
<text x="725.0" y="1456" font-size="17.5" textLength="26.6" lengthAdjust="spacingAndGlyphs" fill="#151515" stroke="none">200</text>
<text x="796.4" y="1456" font-size="17.5" textLength="26.2" lengthAdjust="spacingAndGlyphs" fill="#151515" stroke="none">400</text>
<text x="863.4" y="1456" font-size="17.5" textLength="27.6" lengthAdjust="spacingAndGlyphs" fill="#151515" stroke="none">600</text>
<text x="933.4" y="1456" font-size="17.5" textLength="27.2" lengthAdjust="spacingAndGlyphs" fill="#151515" stroke="none">800</text>
<text x="999.4" y="1456" font-size="17.5" textLength="34.2" lengthAdjust="spacingAndGlyphs" fill="#151515" stroke="none">1000</text>
<text x="643.4" y="1224" font-size="17.5" textLength="19.2" lengthAdjust="spacingAndGlyphs" fill="#151515" stroke="none">20</text>
<text x="653.4" y="1311" font-size="17.5" textLength="9.2" lengthAdjust="spacingAndGlyphs" fill="#151515" stroke="none">0</text>
<text x="634.4" y="1397" font-size="17.5" textLength="28.2" lengthAdjust="spacingAndGlyphs" fill="#151515" stroke="none">−20</text>
<text x="1023.4" y="1179.8" font-size="17.5" textLength="18.2" lengthAdjust="spacingAndGlyphs" fill="#151515" stroke="none">25</text>
<text x="1023.4" y="1231" font-size="17.5" textLength="18.2" lengthAdjust="spacingAndGlyphs" fill="#151515" stroke="none">20</text>
<text x="1023.4" y="1281.3" font-size="17.5" textLength="18.2" lengthAdjust="spacingAndGlyphs" fill="#151515" stroke="none">15</text>
<text x="1023.4" y="1331.6" font-size="17.5" textLength="18.2" lengthAdjust="spacingAndGlyphs" fill="#151515" stroke="none">10</text>
<text x="1023.4" y="1381" font-size="17.5" textLength="8.7" lengthAdjust="spacingAndGlyphs" fill="#151515" stroke="none">5</text>
<text x="1023.4" y="1432" font-size="17.5" textLength="8.7" lengthAdjust="spacingAndGlyphs" fill="#151515" stroke="none">0</text>
<text x="823.4" y="1477" font-size="17" textLength="36.2" lengthAdjust="spacingAndGlyphs" fill="#151515" stroke="none"><tspan font-style="italic">t</tspan>, нс</text>
<text transform="translate(627,1378) rotate(-90)" font-size="15.5" textLength="145.0" lengthAdjust="spacing" fill="#151515" stroke="none"><tspan font-style="italic" font-size="18">U</tspan><tspan font-size="11" dy="3">инд</tspan><tspan dy="-3">, </tspan><tspan font-style="italic" font-size="18">I</tspan><tspan font-size="11" dy="3">изл</tspan><tspan dy="-3">, отн. ед.</tspan></text>
<text transform="translate(1068.6,1353) rotate(-90)" font-size="15.5" textLength="98.0" lengthAdjust="spacing" fill="#151515" stroke="none"><tspan font-style="italic" font-size="18">I</tspan><tspan font-size="11" dy="3">инд</tspan><tspan dy="-3">, отн. ед.</tspan></text>
<path d="M670.0,1304.0 L670.7,1304.0 L671.5,1304.2 L672.4,1303.9 L673.4,1303.9 L674.4,1303.8 L675.6,1303.5 L676.8,1303.6 L678.2,1303.6 L679.5,1303.6 L680.9,1303.1 L682.3,1303.2 L683.8,1303.0 L685.3,1303.3 L686.7,1303.2 L688.2,1302.8 L689.7,1303.3 L691.1,1303.3 L692.6,1303.1 L693.9,1303.1 L695.3,1302.9 L696.5,1302.8 L697.7,1303.3 L698.9,1303.1 L699.9,1303.4 L700.9,1303.6 L701.7,1303.7 L703.2,1304.6 L704.4,1305.2 L705.4,1306.3 L706.3,1306.9 L707.1,1308.0 L707.7,1308.9 L708.2,1310.1 L708.7,1311.2 L709.1,1312.3 L709.5,1314.0 L710.0,1315.3 L710.5,1316.6 L711.0,1317.9 L711.4,1318.7 L711.8,1319.6 L712.1,1320.7 L712.5,1321.6 L712.8,1323.1 L713.1,1324.0 L713.5,1325.4 L713.8,1326.2 L714.1,1327.8 L714.4,1328.9 L714.6,1329.6 L714.9,1331.0 L715.2,1332.7 L715.5,1333.8 L715.8,1335.4 L716.1,1336.4 L716.4,1337.6 L716.7,1339.3 L717.0,1340.9 L717.2,1341.6 L717.4,1342.6 L717.6,1343.9 L717.9,1345.4 L718.1,1346.5 L718.3,1347.3 L718.5,1348.7 L718.7,1349.8 L718.9,1351.1 L719.1,1352.9 L719.3,1353.8 L719.5,1355.3 L719.7,1356.6 L719.9,1357.8 L720.1,1359.4 L720.3,1360.3 L720.5,1361.9 L720.7,1362.9 L721.0,1364.3 L721.2,1365.4 L721.4,1366.6 L721.7,1368.2 L721.9,1369.2 L722.2,1370.0 L722.4,1371.3 L722.7,1371.9 L723.0,1372.9 L723.5,1374.8 L724.1,1376.2 L724.7,1377.4 L725.3,1379.3 L726.0,1380.2 L726.7,1381.5 L727.4,1383.0 L728.0,1383.9 L728.7,1384.9 L729.4,1385.7 L730.0,1386.6 L730.7,1387.6 L731.3,1388.0 L731.9,1388.7 L732.4,1388.9 L733.4,1389.3 L734.4,1389.5 L735.2,1388.6 L736.1,1387.6 L736.9,1386.3 L737.7,1384.0 L738.5,1381.8 L738.8,1381.5 L739.0,1380.7 L739.3,1379.6 L739.5,1378.8 L739.8,1378.4 L740.0,1377.7 L740.2,1376.4 L740.5,1376.0 L740.7,1375.1 L740.9,1374.0 L741.2,1372.8 L741.4,1371.6 L741.7,1370.4 L741.9,1369.7 L742.2,1368.0 L742.5,1366.8 L742.8,1365.1 L743.1,1363.8 L743.5,1361.9 L743.8,1359.9 L744.2,1357.9 L744.6,1356.1 L744.8,1354.9 L744.9,1354.1 L745.1,1353.5 L745.3,1352.7 L745.4,1351.7 L745.6,1350.5 L745.8,1349.9 L746.0,1348.5 L746.2,1347.4 L746.4,1346.5 L746.6,1345.6 L746.8,1344.3 L747.0,1343.2 L747.2,1342.3 L747.4,1341.3 L747.6,1339.9 L747.9,1338.8 L748.1,1338.0 L748.3,1336.9 L748.5,1335.5 L748.7,1334.3 L749.0,1333.0 L749.2,1331.5 L749.4,1330.2 L749.6,1329.0 L749.9,1328.2 L750.1,1326.9 L750.3,1325.7 L750.6,1323.9 L750.8,1323.0 L751.0,1321.6 L751.3,1320.5 L751.5,1318.9 L751.7,1318.0 L752.0,1316.1 L752.2,1315.1 L752.4,1313.9 L752.7,1312.7 L752.9,1311.3 L753.1,1310.0 L753.3,1308.7 L753.6,1307.5 L753.8,1305.8 L754.0,1304.7 L754.2,1303.5 L754.4,1302.2 L754.6,1300.7 L754.9,1299.6 L755.1,1298.4 L755.3,1296.9 L755.5,1295.7 L755.7,1294.3 L755.9,1293.1 L756.1,1291.9 L756.3,1290.4 L756.4,1289.5 L756.6,1288.5 L756.8,1287.2 L757.0,1285.9 L757.2,1284.5 L757.3,1283.4 L757.5,1282.1 L757.7,1280.7 L757.9,1279.7 L758.0,1277.9 L758.2,1277.0 L758.4,1275.3 L758.5,1274.3 L758.7,1272.9 L758.9,1271.4 L759.0,1270.4 L759.2,1268.9 L759.4,1267.6 L759.5,1266.5 L759.7,1264.7 L759.8,1263.2 L760.0,1262.0 L760.1,1260.9 L760.3,1259.3 L760.4,1257.9 L760.6,1257.0 L760.8,1255.5 L760.9,1254.0 L761.0,1252.9 L761.2,1251.3 L761.3,1250.1 L761.5,1248.5 L761.6,1247.4 L761.8,1246.3 L761.9,1245.1 L762.0,1243.8 L762.2,1242.2 L762.3,1241.0 L762.5,1239.6 L762.6,1238.3 L762.7,1237.3 L762.9,1236.3 L763.0,1235.1 L763.1,1233.9 L763.2,1232.9 L763.4,1231.3 L763.5,1230.1 L763.6,1229.2 L763.7,1228.0 L763.9,1227.0 L764.0,1226.0 L764.1,1225.2 L764.2,1224.1 L764.3,1223.0 L764.4,1222.4 L764.6,1221.6 L764.7,1220.4 L764.8,1219.3 L764.9,1218.5 L765.0,1218.2 L765.4,1215.1 L765.7,1213.3 L766.0,1211.2 L766.3,1209.3 L766.6,1208.1 L766.8,1206.3 L767.0,1205.2 L767.3,1204.4 L767.5,1203.3 L767.7,1203.1 L767.9,1202.0 L768.1,1201.3 L768.3,1200.7 L768.5,1200.4 L768.8,1199.7 L769.0,1199.1 L769.8,1197.2 L770.6,1196.1 L771.3,1195.6 L772.1,1195.0 L773.0,1194.3 L774.2,1194.1 L775.5,1193.7 L776.8,1193.8 L778.0,1194.5 L778.9,1194.9 L779.7,1194.9 L780.4,1196.1 L781.5,1198.9 L781.7,1199.8 L782.0,1200.5 L782.2,1201.4 L782.5,1202.4 L782.8,1203.1 L783.0,1204.4 L783.3,1205.5 L783.6,1206.1 L783.9,1207.7 L784.2,1208.8 L784.5,1209.6 L784.8,1211.1 L785.2,1212.4 L785.5,1213.9 L785.8,1214.9 L786.1,1216.4 L786.4,1218.0 L786.7,1219.4 L787.1,1220.9 L787.4,1222.0 L787.7,1223.6 L788.0,1224.8 L788.2,1226.1 L788.4,1227.2 L788.6,1228.2 L788.8,1229.3 L789.1,1230.1 L789.3,1231.7 L789.5,1232.9 L789.7,1234.0 L789.9,1234.9 L790.2,1236.3 L790.4,1237.2 L790.6,1238.8 L790.8,1240.0 L791.1,1241.0 L791.3,1242.1 L791.5,1243.5 L791.7,1244.9 L791.9,1246.3 L792.2,1247.4 L792.4,1248.3 L792.6,1250.1 L792.8,1250.9 L793.0,1252.5 L793.2,1253.4 L793.5,1254.7 L793.7,1256.2 L793.9,1257.0 L794.1,1258.2 L794.3,1259.6 L794.4,1260.8 L794.6,1262.0 L794.8,1263.0 L795.0,1264.3 L795.2,1265.4 L795.4,1267.0 L795.7,1267.9 L795.9,1269.3 L796.1,1270.9 L796.3,1272.1 L796.4,1273.7 L796.6,1274.9 L796.8,1276.2 L797.0,1277.6 L797.2,1278.7 L797.3,1279.9 L797.5,1281.1 L797.7,1282.7 L797.8,1283.9 L798.0,1284.7 L798.2,1286.2 L798.3,1287.5 L798.5,1288.4 L798.7,1289.5 L798.9,1290.4 L799.1,1291.7 L799.3,1292.7 L799.5,1293.8 L799.7,1294.5 L800.0,1296.5 L800.3,1297.7 L800.7,1299.0 L801.0,1300.6 L801.3,1301.7 L801.7,1302.9 L802.0,1304.3 L802.4,1305.1 L802.7,1306.5 L803.1,1307.5 L803.5,1309.0 L803.8,1310.0 L804.2,1310.6 L804.6,1311.8 L805.0,1312.5 L805.4,1313.7 L805.8,1314.9 L806.4,1316.3 L807.0,1317.4 L807.6,1318.6 L808.3,1319.7 L809.0,1321.2 L809.6,1322.5 L810.3,1323.1 L811.0,1324.5 L811.6,1324.9 L812.3,1325.7 L812.9,1326.4 L813.5,1327.1 L814.8,1327.4 L816.0,1327.3 L817.1,1326.7 L818.3,1325.2 L819.6,1324.1 L820.2,1323.1 L820.8,1322.5 L821.5,1321.4 L822.1,1320.3 L822.8,1319.4 L823.5,1318.2 L824.1,1317.0 L824.8,1315.9 L825.5,1314.8 L826.1,1313.5 L826.7,1312.4 L827.3,1311.7 L828.0,1310.5 L828.5,1309.1 L829.1,1308.0 L829.6,1306.6 L830.1,1305.5 L830.6,1303.9 L831.2,1303.2 L831.9,1302.3 L832.6,1301.7 L833.4,1300.9 L834.4,1300.7 L835.4,1301.0 L836.6,1300.7 L837.8,1301.4 L839.1,1301.7 L840.4,1301.8 L841.6,1302.5 L842.8,1303.5 L843.9,1304.0 L844.9,1304.8 L845.6,1305.9 L846.2,1306.4 L846.8,1307.4 L847.3,1307.8 L847.8,1308.9 L848.3,1310.0 L848.8,1310.7 L849.2,1312.0 L849.7,1313.6 L850.3,1315.2 L850.9,1316.8 L851.5,1318.1 L851.8,1319.2 L852.1,1320.3 L852.4,1321.1 L852.8,1322.3 L853.1,1323.1 L853.4,1324.2 L853.7,1325.4 L854.1,1326.6 L854.4,1328.2 L854.8,1329.4 L855.1,1330.8 L855.5,1331.9 L855.9,1333.2 L856.2,1334.6 L856.6,1336.3 L857.0,1337.7 L857.3,1338.9 L857.7,1339.7 L858.1,1341.0 L858.5,1342.7 L858.9,1343.6 L859.3,1345.0 L859.7,1345.8 L860.1,1346.9 L860.6,1347.9 L861.0,1348.8 L861.4,1349.8 L862.2,1350.9 L863.0,1352.7 L863.9,1354.1 L864.8,1355.0 L865.7,1356.4 L866.6,1357.7 L867.5,1358.6 L868.5,1359.4 L869.4,1360.2 L870.3,1361.1 L871.2,1361.3 L872.1,1362.2 L873.0,1362.3 L873.8,1362.3 L874.6,1362.2 L875.2,1361.8 L875.8,1361.2 L876.3,1360.7 L876.9,1359.9 L877.4,1359.3 L878.0,1358.2 L878.5,1356.9 L879.0,1356.1 L879.5,1354.8 L880.0,1353.5 L880.5,1352.2 L881.0,1350.6 L881.5,1349.6 L882.0,1348.2 L882.5,1346.7 L883.0,1345.4 L883.5,1344.1 L884.0,1342.6 L884.5,1341.5 L884.9,1340.1 L885.4,1339.3 L885.8,1338.4 L886.3,1337.1 L886.7,1336.4 L887.2,1335.6 L887.6,1334.6 L888.0,1333.4 L888.5,1332.8 L888.9,1331.7 L889.4,1330.4 L889.8,1329.6 L890.2,1328.5 L890.7,1327.3 L891.1,1326.1 L891.6,1325.3 L892.0,1323.8 L892.5,1322.6 L893.0,1321.3 L893.4,1320.0 L893.9,1318.0 L894.4,1316.8 L894.7,1315.9 L895.0,1314.6 L895.3,1313.7 L895.5,1312.4 L895.8,1311.4 L896.1,1310.4 L896.4,1309.0 L896.7,1307.9 L897.0,1307.1 L897.3,1305.6 L897.6,1304.3 L897.9,1303.3 L898.2,1301.7 L898.5,1300.7 L898.8,1299.1 L899.1,1297.9 L899.4,1296.1 L899.7,1295.1 L900.0,1293.8 L900.4,1292.1 L900.7,1291.3 L901.0,1289.5 L901.3,1288.4 L901.6,1286.9 L901.9,1285.8 L902.2,1284.6 L902.5,1283.1 L902.8,1282.4 L903.1,1280.9 L903.4,1279.8 L903.8,1278.8 L904.1,1277.6 L904.4,1276.5 L904.7,1275.7 L905.0,1274.7 L905.3,1273.7 L905.6,1273.1 L905.9,1272.1 L906.7,1270.0 L907.6,1268.5 L908.5,1266.9 L909.4,1265.7 L910.2,1264.9 L911.1,1263.8 L912.0,1263.3 L912.9,1262.5 L913.7,1261.5 L914.6,1261.6 L915.3,1261.2 L916.1,1260.3 L916.8,1260.4 L917.5,1259.8 L919.1,1259.1 L920.3,1259.3 L921.4,1259.4 L922.6,1260.7 L924.0,1262.6 L924.5,1263.1 L925.1,1263.7 L925.7,1264.8 L926.3,1265.7 L926.9,1266.5 L927.5,1267.3 L928.1,1268.7 L928.8,1269.8 L929.4,1270.8 L930.1,1271.9 L930.8,1273.3 L931.4,1274.2 L932.1,1275.6 L932.7,1276.8 L933.4,1277.8 L934.0,1278.7 L934.7,1280.0 L935.4,1281.1 L936.1,1282.5 L936.8,1283.5 L937.5,1285.0 L938.2,1286.1 L939.0,1287.2 L939.7,1288.0 L940.4,1289.0 L941.1,1290.5 L941.8,1291.4 L942.5,1292.2 L943.2,1292.8 L943.9,1293.5 L945.1,1294.7 L946.3,1295.5 L947.5,1296.2 L948.6,1296.7 L949.8,1297.0 L951.1,1296.9 L952.4,1296.9 L953.8,1297.2 L954.8,1296.9 L955.8,1296.6 L956.9,1295.6 L958.1,1295.1 L959.2,1294.6 L960.4,1294.1 L961.6,1293.5 L962.7,1292.5 L963.9,1292.1 L965.0,1291.2 L966.0,1290.6 L967.0,1290.4 L968.2,1289.6 L969.4,1288.8 L970.5,1287.8 L971.6,1287.0 L972.6,1286.0 L973.7,1285.5 L974.7,1285.3 L975.7,1285.3 L976.8,1285.0 L977.5,1285.4 L978.3,1286.3 L979.0,1286.8 L979.7,1287.6 L980.4,1288.1 L981.2,1289.2 L981.9,1290.1 L982.6,1291.6 L983.4,1292.5 L984.2,1294.0 L985.0,1295.7 L985.8,1296.8 L986.7,1298.5 L987.1,1299.5 L987.6,1300.5 L988.0,1301.1 L988.5,1302.1 L989.0,1303.0 L989.4,1304.5 L989.9,1305.1 L990.4,1306.3 L990.9,1307.8 L991.4,1308.9 L991.9,1310.3 L992.4,1311.3 L992.9,1312.8 L993.4,1313.6 L993.9,1314.9 L994.4,1316.5 L994.9,1317.3 L995.5,1318.7 L996.0,1320.1 L996.5,1321.3 L997.0,1322.2 L997.5,1323.2 L998.0,1324.4 L998.5,1325.6 L999.0,1326.4 L999.5,1327.1 L1000.0,1328.3 L1000.8,1329.6 L1001.7,1331.1 L1002.6,1332.3 L1003.5,1333.5 L1004.4,1334.3 L1005.3,1335.6 L1006.2,1336.3 L1007.1,1337.2 L1008.0,1338.2 L1008.9,1339.3 L1009.7,1340.1 L1010.5,1340.4 L1011.2,1341.1 L1011.9,1341.8 L1012.5,1342.4 L1013.0,1342.9 L1014.9,1344.6 L1015.6,1344.8 L1016.0,1345.0" stroke="#555555" stroke-width="1.9" stroke-linejoin="round"/>
<path d="M670.0,1304.2 L670.3,1304.8 L670.7,1304.1 L671.0,1304.8 L671.4,1304.1 L671.8,1303.1 L672.3,1304.6 L672.7,1304.9 L673.2,1303.3 L673.7,1302.6 L674.3,1303.8 L674.8,1303.9 L675.4,1303.9 L675.9,1304.9 L676.5,1304.0 L677.2,1304.4 L677.8,1302.4 L678.4,1303.6 L679.1,1304.2 L679.7,1302.3 L680.4,1302.3 L681.1,1303.9 L681.8,1304.3 L682.5,1302.2 L683.2,1303.5 L684.0,1302.2 L684.7,1303.7 L685.4,1303.5 L686.2,1302.4 L686.9,1302.3 L687.6,1303.6 L688.4,1303.0 L689.1,1303.5 L689.9,1302.5 L690.6,1302.4 L691.4,1304.0 L692.1,1303.2 L692.8,1302.7 L693.6,1302.7 L694.3,1303.2 L695.0,1303.1 L695.7,1303.7 L696.4,1302.3 L697.1,1303.4 L697.8,1303.0 L698.5,1303.4 L699.2,1303.3 L699.8,1303.4 L700.5,1303.5 L701.1,1303.7 L701.7,1302.9 L702.3,1302.6 L702.9,1303.1 L703.4,1303.3 L704.0,1302.4 L704.5,1302.4 L705.0,1301.7 L705.5,1303.3 L706.0,1304.0 L706.4,1302.4 L706.8,1301.9 L707.2,1302.1 L707.6,1302.7 L707.9,1302.5 L709.0,1304.5 L709.8,1302.5 L710.5,1303.6 L711.0,1303.5 L711.3,1305.4 L711.4,1306.3 L711.5,1305.3 L711.5,1305.6 L711.4,1307.3 L711.3,1308.3 L711.1,1309.8 L710.9,1308.2 L710.8,1309.1 L710.7,1310.0 L710.7,1310.8 L710.8,1311.6 L711.0,1313.6 L711.2,1313.7 L711.4,1313.3 L711.6,1313.7 L711.8,1314.5 L712.0,1314.8 L712.3,1316.9 L712.5,1316.4 L712.8,1317.6 L713.0,1318.9 L713.3,1318.6 L713.5,1318.7 L713.8,1320.9 L714.0,1321.6 L714.3,1320.8 L714.6,1321.9 L714.8,1323.6 L715.1,1322.9 L715.3,1322.8 L715.6,1322.9 L715.8,1325.8 L716.1,1326.0 L716.3,1325.4 L716.6,1326.2 L716.8,1326.6 L717.0,1326.4 L717.4,1329.1 L717.8,1329.0 L718.2,1328.6 L718.6,1328.7 L719.0,1330.5 L719.4,1330.8 L719.8,1332.4 L720.1,1332.6 L720.5,1332.7 L720.8,1331.8 L721.2,1332.0 L721.6,1332.5 L722.1,1332.3 L722.5,1333.7 L723.0,1332.5 L723.4,1332.3 L723.9,1332.7 L724.4,1330.2 L724.8,1330.3 L725.3,1328.7 L725.7,1329.7 L726.2,1327.2 L726.7,1328.8 L727.1,1328.1 L727.5,1327.2 L728.0,1324.4 L728.4,1324.1 L728.8,1324.5 L729.3,1322.4 L729.8,1323.2 L730.3,1323.3 L730.8,1325.2 L731.0,1324.5 L731.1,1325.5 L731.3,1324.4 L731.4,1326.0 L731.6,1325.4 L731.7,1327.2 L731.9,1325.5 L732.1,1327.9 L732.2,1326.8 L732.4,1328.2 L732.6,1328.7 L732.8,1328.4 L732.9,1330.7 L733.1,1330.0 L733.3,1330.7 L733.5,1330.7 L733.6,1332.0 L733.8,1333.1 L734.0,1334.4 L734.2,1334.2 L734.3,1335.7 L734.5,1334.9 L734.7,1336.4 L734.9,1337.3 L735.1,1339.3 L735.2,1339.6 L735.4,1339.8 L735.6,1338.8 L735.8,1340.5 L736.0,1342.0 L736.1,1341.4 L736.3,1342.9 L736.5,1343.2 L736.7,1342.6 L736.8,1345.7 L737.0,1345.8 L737.2,1344.9 L737.4,1346.6 L737.6,1346.4 L737.8,1347.3 L738.0,1348.5 L738.2,1348.5 L738.4,1349.3 L738.6,1350.2 L738.9,1351.6 L739.1,1351.2 L739.3,1351.8 L739.5,1353.9 L739.7,1353.5 L739.9,1355.8 L740.1,1355.4 L740.3,1356.5 L740.5,1356.1 L740.7,1358.0 L740.9,1356.7 L741.1,1357.4 L741.3,1357.8 L741.5,1359.8 L741.7,1360.3 L741.9,1359.4 L742.1,1360.4 L742.3,1361.9 L742.5,1361.6 L742.6,1360.5 L742.8,1361.1 L743.0,1361.1 L743.4,1361.3 L743.7,1362.1 L744.1,1361.1 L744.4,1363.1 L744.7,1361.4 L745.0,1361.1 L745.3,1360.9 L745.7,1360.5 L746.0,1359.8 L746.3,1357.9 L746.6,1356.8 L747.0,1356.1 L747.3,1354.2 L747.7,1354.2 L747.9,1354.6 L748.0,1354.9 L748.2,1353.9 L748.4,1353.0 L748.6,1352.3 L748.8,1350.2 L748.9,1350.5 L749.1,1349.9 L749.3,1350.0 L749.5,1348.0 L749.7,1348.0 L749.9,1347.7 L750.1,1347.8 L750.3,1347.2 L750.5,1345.9 L750.7,1344.1 L750.9,1345.0 L751.0,1344.7 L751.2,1343.1 L751.4,1341.9 L751.6,1341.6 L751.8,1340.1 L752.0,1340.9 L752.2,1341.1 L752.4,1339.3 L752.6,1339.2 L752.8,1339.0 L753.0,1336.9 L753.2,1338.3 L753.4,1337.1 L753.6,1335.6 L753.8,1334.9 L754.4,1334.5 L754.9,1334.6 L755.4,1334.4 L756.0,1333.0 L756.5,1334.3 L757.1,1332.6 L757.6,1332.8 L758.2,1331.9 L758.8,1334.1 L759.4,1332.0 L760.0,1334.1 L760.5,1333.3 L761.0,1333.6 L761.6,1334.1 L762.1,1333.9 L762.7,1336.2 L763.2,1337.0 L763.8,1337.2 L764.4,1337.3 L764.9,1336.5 L765.5,1338.8 L766.0,1337.6 L766.6,1339.3 L767.1,1337.4 L767.6,1337.9 L767.8,1338.3 L768.0,1336.4 L768.2,1337.0 L768.4,1335.4 L768.6,1334.9 L768.8,1334.9 L769.0,1336.5 L769.2,1335.9 L769.4,1334.7 L769.5,1333.2 L769.7,1333.6 L769.9,1333.2 L770.1,1331.7 L770.3,1331.7 L770.5,1331.6 L770.7,1328.9 L770.8,1328.7 L771.0,1328.7 L771.2,1327.2 L771.4,1327.1 L771.5,1326.9 L771.7,1325.2 L771.9,1325.4 L772.1,1324.0 L772.2,1324.1 L772.4,1322.8 L772.6,1322.9 L772.7,1320.6 L772.9,1321.6 L773.1,1319.5 L773.2,1321.0 L773.4,1319.4 L773.5,1318.4 L773.7,1317.6 L773.8,1317.6 L774.0,1317.2 L774.1,1316.8 L774.2,1316.2 L774.4,1314.9 L774.5,1315.7 L774.6,1314.7 L774.7,1314.1 L774.8,1312.4 L774.9,1311.8 L775.1,1311.6 L775.2,1311.9 L775.3,1310.3 L775.4,1309.6 L775.5,1308.8 L775.6,1309.4 L775.7,1307.3 L775.8,1306.0 L775.9,1307.1 L776.1,1306.9 L776.2,1305.9 L776.3,1304.9 L776.4,1304.7 L776.5,1302.9 L776.6,1303.1 L776.7,1301.1 L776.8,1300.7 L776.9,1300.9 L777.1,1300.5 L777.2,1299.6 L777.3,1298.1 L777.4,1299.2 L777.5,1298.2 L777.6,1296.9 L777.8,1296.5 L777.9,1296.2 L778.0,1295.2 L778.2,1294.2 L778.3,1295.9 L778.5,1295.4 L778.6,1293.9 L778.8,1293.8 L779.0,1291.9 L779.2,1292.2 L779.4,1290.0 L779.5,1290.7 L779.7,1289.5 L779.9,1289.7 L780.1,1286.9 L780.3,1288.1 L780.5,1285.6 L780.7,1286.0 L780.9,1286.4 L781.1,1283.3 L781.3,1283.3 L781.5,1282.8 L781.7,1282.3 L781.8,1281.0 L782.0,1282.6 L782.2,1281.8 L782.4,1280.1 L782.6,1279.5 L782.8,1279.6 L783.0,1277.7 L783.2,1277.2 L783.4,1279.1 L783.6,1277.1 L783.8,1277.3 L784.0,1278.1 L784.2,1277.9 L784.4,1276.3 L785.0,1275.1 L785.5,1275.1 L786.1,1276.8 L786.6,1277.0 L787.2,1275.7 L787.7,1277.9 L788.3,1277.2 L788.8,1278.1 L789.4,1277.9 L789.9,1280.2 L790.5,1280.8 L791.1,1279.0 L791.7,1280.5 L792.3,1279.8 L792.9,1282.0 L793.5,1280.2 L794.2,1280.7 L794.8,1282.4 L795.4,1281.3 L796.0,1282.6 L796.6,1282.0 L796.8,1281.3 L797.1,1279.4 L797.3,1280.5 L797.5,1280.7 L797.8,1278.9 L798.0,1277.4 L798.2,1277.2 L798.5,1276.8 L798.7,1277.3 L799.0,1275.3 L799.2,1274.6 L799.4,1274.0 L799.7,1274.5 L799.9,1274.1 L800.1,1272.3 L800.4,1272.4 L800.6,1272.2 L800.8,1270.8 L801.1,1269.2 L801.3,1268.7 L801.5,1269.8 L801.7,1268.5 L802.0,1266.9 L802.2,1267.3 L802.4,1265.4 L802.6,1267.3 L802.8,1265.5 L803.4,1264.8 L803.9,1263.9 L804.4,1261.9 L804.9,1262.7 L805.3,1261.4 L805.8,1261.0 L806.3,1262.4 L806.8,1260.6 L807.4,1261.4 L807.7,1262.9 L807.9,1261.8 L808.2,1262.2 L808.4,1263.3 L808.7,1262.7 L809.0,1265.0 L809.3,1265.7 L809.6,1263.7 L809.8,1265.4 L810.1,1266.7 L810.4,1266.3 L810.7,1268.4 L811.0,1267.9 L811.3,1267.7 L811.6,1269.3 L811.9,1270.3 L812.2,1270.2 L812.5,1271.7 L812.9,1272.7 L813.2,1272.7 L813.5,1273.4 L813.7,1274.8 L813.9,1274.9 L814.1,1275.1 L814.4,1276.8 L814.6,1275.4 L814.8,1277.7 L815.0,1276.8 L815.3,1278.7 L815.5,1278.4 L815.7,1279.7 L816.0,1281.4 L816.2,1282.2 L816.4,1283.0 L816.7,1282.3 L816.9,1283.7 L817.1,1283.8 L817.4,1285.5 L817.6,1286.0 L817.9,1285.5 L818.1,1287.6 L818.3,1288.5 L818.6,1288.8 L818.8,1290.1 L819.1,1288.8 L819.3,1289.2 L819.6,1289.3 L819.8,1290.9 L820.0,1291.0 L820.3,1291.3 L820.5,1291.0 L820.8,1292.5 L821.0,1290.6 L821.2,1292.7 L821.4,1291.7 L821.7,1291.4 L821.9,1291.7 L822.1,1289.9 L822.3,1289.2 L822.6,1289.2 L822.8,1287.9 L823.0,1288.0 L823.3,1288.2 L823.5,1287.2 L823.7,1285.9 L823.9,1286.0 L824.2,1283.9 L824.4,1285.0 L824.6,1282.5 L824.9,1281.9 L825.1,1280.8 L825.3,1281.4 L825.6,1280.9 L825.8,1280.0 L826.0,1277.4 L826.2,1277.5 L826.5,1276.6 L826.7,1275.5 L826.9,1276.8 L827.1,1273.7 L827.3,1274.3 L827.6,1274.5 L827.8,1274.6 L828.0,1271.9 L828.2,1272.4 L828.4,1272.8 L828.6,1270.8 L828.8,1271.1 L829.1,1272.7 L829.4,1270.7 L829.7,1271.5 L830.0,1271.4 L830.3,1272.1 L830.6,1271.5 L830.9,1271.8 L831.2,1274.9 L831.5,1274.8 L831.7,1275.4 L832.0,1274.7 L832.3,1275.5 L832.6,1277.0 L832.8,1277.0 L833.1,1278.4 L833.4,1280.4 L833.6,1279.7 L833.9,1280.5 L834.1,1283.0 L834.4,1282.8 L834.6,1282.1 L834.9,1283.7 L835.1,1284.9 L835.2,1283.9 L835.4,1285.2 L835.6,1286.7 L835.7,1287.7 L835.9,1287.6 L836.1,1289.0 L836.2,1288.6 L836.4,1289.1 L836.5,1290.9 L836.7,1290.4 L836.8,1292.2 L837.0,1291.4 L837.1,1292.5 L837.3,1292.7 L837.4,1294.4 L837.6,1294.1 L837.8,1294.9 L837.9,1295.6 L838.1,1296.9 L838.2,1297.2 L838.4,1298.2 L838.5,1300.2 L838.7,1300.0 L838.8,1301.0 L838.9,1299.9 L839.1,1300.8 L839.2,1300.5 L839.4,1302.6 L839.5,1302.1 L839.7,1302.3 L839.8,1302.0 L840.0,1302.7 L840.6,1303.8 L841.2,1304.7 L841.7,1306.3 L842.3,1305.7 L842.9,1304.1 L843.5,1303.6 L844.2,1302.1 L844.9,1302.9 L845.1,1301.1 L845.3,1301.7 L845.4,1301.1 L845.6,1301.1 L845.8,1298.2 L846.0,1298.3 L846.1,1297.7 L846.3,1296.2 L846.5,1297.5 L846.7,1295.3 L846.9,1295.6 L847.1,1294.1 L847.2,1292.0 L847.4,1292.1 L847.6,1290.8 L847.8,1289.4 L848.0,1288.8 L848.2,1289.1 L848.4,1286.9 L848.6,1286.8 L848.9,1286.3 L849.1,1285.9 L849.3,1284.1 L849.5,1285.0 L849.7,1283.2 L850.0,1283.9 L850.2,1283.3 L850.5,1281.5 L850.7,1281.4 L851.0,1281.3 L851.2,1282.3 L851.5,1281.4 L851.7,1281.4 L852.0,1282.7 L852.3,1281.3 L852.4,1281.6 L852.6,1281.9 L852.7,1281.8 L852.9,1281.6 L853.1,1281.9 L853.2,1283.8 L853.4,1283.9 L853.6,1284.9 L853.7,1285.8 L853.9,1284.4 L854.1,1285.8 L854.3,1286.9 L854.5,1285.6 L854.6,1287.3 L854.8,1287.8 L855.0,1289.1 L855.2,1289.4 L855.4,1288.4 L855.6,1290.0 L855.8,1289.2 L856.0,1290.7 L856.2,1291.3 L856.4,1291.1 L856.6,1292.6 L856.8,1293.1 L857.0,1294.2 L857.2,1294.4 L857.4,1294.8 L857.6,1296.1 L857.8,1297.1 L858.0,1297.0 L858.2,1299.0 L858.4,1298.7 L858.7,1299.0 L858.9,1300.4 L859.1,1301.4 L859.3,1301.4 L859.5,1303.3 L859.7,1304.4 L859.9,1304.7 L860.1,1305.9 L860.3,1304.8 L860.5,1306.5 L860.7,1307.2 L860.9,1307.1 L861.1,1308.8 L861.2,1308.6 L861.4,1310.4 L861.6,1311.3 L861.8,1311.7 L862.0,1312.0 L862.2,1312.5 L862.3,1312.5 L862.5,1314.0 L862.7,1316.1 L862.9,1315.8 L863.0,1315.6 L863.2,1317.2 L863.3,1316.5 L863.5,1317.8 L863.6,1318.7 L863.8,1320.0 L863.9,1319.0 L864.1,1320.0 L864.2,1321.3 L864.3,1321.3 L864.5,1321.3 L864.6,1321.6 L864.7,1321.4 L865.7,1324.0 L866.3,1324.7 L866.6,1326.2 L866.9,1325.8 L867.3,1323.7 L868.0,1324.4 L868.3,1321.9 L868.7,1321.7 L869.0,1322.2 L869.4,1321.1 L869.8,1320.6 L870.2,1321.5 L870.7,1318.7 L871.1,1318.0 L871.6,1317.4 L872.1,1317.9 L872.5,1316.1 L873.0,1315.0 L873.5,1315.9 L874.1,1315.2 L874.6,1314.7 L875.1,1315.3 L875.7,1315.9 L876.2,1316.0 L876.4,1316.4 L876.6,1316.5 L876.9,1317.5 L877.1,1318.2 L877.4,1316.9 L877.6,1317.4 L877.9,1319.2 L878.1,1318.2 L878.4,1319.7 L878.6,1320.2 L878.9,1320.7 L879.2,1322.0 L879.5,1322.3 L879.7,1321.1 L880.0,1323.0 L880.3,1323.3 L880.6,1324.1 L880.9,1324.3 L881.2,1324.8 L881.5,1326.7 L881.7,1326.8 L882.0,1326.7 L882.3,1327.5 L882.6,1328.4 L882.9,1328.7 L883.2,1330.3 L883.4,1330.0 L883.7,1330.5 L884.0,1331.2 L884.2,1332.0 L884.5,1334.3 L884.8,1333.4 L885.0,1334.9 L885.3,1336.4 L885.5,1336.2 L885.8,1336.0 L886.0,1338.4 L886.2,1339.0 L886.5,1337.4 L886.7,1338.4 L886.9,1339.5 L887.1,1340.7 L887.3,1340.1 L887.5,1341.3 L887.6,1340.4 L887.8,1342.0 L888.9,1342.8 L889.6,1343.4 L889.9,1344.3 L890.4,1343.8 L891.1,1343.2 L891.5,1342.3 L891.9,1341.7 L892.3,1342.3 L892.7,1341.8 L893.1,1342.1 L893.6,1341.7 L894.1,1339.6 L894.6,1339.9 L895.1,1340.2 L895.6,1338.6 L896.1,1337.9 L896.6,1336.8 L897.2,1337.5 L897.7,1337.6 L897.9,1337.3 L898.2,1334.7 L898.4,1335.7 L898.6,1334.5 L898.9,1334.5 L899.1,1333.3 L899.3,1334.1 L899.6,1333.7 L899.8,1330.6 L900.1,1331.7 L900.3,1329.4 L900.6,1328.6 L900.8,1328.5 L901.1,1329.0 L901.3,1328.9 L901.6,1326.0 L901.8,1325.8 L902.1,1324.4 L902.3,1325.0 L902.6,1324.2 L902.8,1323.3 L903.1,1322.5 L903.4,1323.2 L903.6,1322.7 L903.9,1320.7 L904.1,1320.5 L904.4,1320.6 L904.6,1320.5 L904.9,1320.7 L905.1,1318.8 L905.4,1319.3 L905.6,1318.6 L905.9,1319.1 L906.4,1317.2 L906.8,1317.4 L907.3,1317.5 L907.7,1320.2 L908.2,1319.1 L908.6,1320.5 L909.1,1320.4 L909.5,1321.8 L910.0,1321.9 L910.4,1324.1 L910.9,1323.8 L911.4,1325.6 L911.9,1325.2 L912.4,1325.3 L913.0,1325.9 L913.6,1325.3 L914.2,1324.4 L914.4,1323.6 L914.6,1323.3 L914.7,1325.2 L914.9,1323.3 L915.1,1322.4 L915.3,1322.2 L915.5,1322.6 L915.7,1323.5 L915.9,1321.0 L916.2,1322.2 L916.4,1320.7 L916.6,1320.0 L916.8,1320.4 L917.0,1318.8 L917.3,1317.3 L917.5,1318.0 L917.7,1317.6 L917.9,1316.9 L918.2,1315.3 L918.4,1316.4 L918.6,1315.5 L918.9,1315.2 L919.1,1313.0 L919.3,1313.4 L919.6,1312.4 L919.8,1310.2 L920.1,1309.1 L920.3,1308.7 L920.5,1307.9 L920.8,1307.0 L921.0,1307.0 L921.3,1307.3 L921.5,1305.4 L921.7,1305.2 L922.0,1303.2 L922.2,1303.0 L922.5,1304.2 L922.7,1301.0 L922.9,1301.7 L923.2,1301.7 L923.4,1301.0 L923.6,1300.2 L923.8,1298.6 L924.1,1299.0 L924.3,1298.5 L924.5,1297.7 L924.7,1297.7 L924.9,1294.8 L925.1,1296.4 L925.4,1294.5 L925.6,1294.7 L925.8,1293.0 L926.0,1294.3 L926.2,1291.5 L926.3,1292.5 L926.5,1291.2 L926.7,1291.2 L926.9,1290.8 L927.1,1291.3 L927.2,1291.4 L927.4,1289.9 L928.1,1289.7 L928.8,1288.4 L929.4,1288.1 L929.9,1289.8 L930.4,1288.6 L930.9,1288.6 L931.3,1289.9 L931.8,1291.8 L932.2,1291.3 L932.6,1293.5 L933.1,1293.9 L933.5,1295.0 L934.0,1294.4 L934.3,1294.6 L934.7,1295.3 L935.0,1296.4 L935.3,1297.4 L935.7,1297.0 L936.0,1299.1 L936.3,1299.6 L936.6,1300.2 L936.9,1301.6 L937.3,1303.5 L937.6,1302.2 L937.9,1304.7 L938.3,1303.8 L938.6,1305.4 L939.0,1304.1 L939.4,1306.6 L939.8,1305.2 L940.2,1306.6 L940.6,1304.4 L940.8,1304.7 L941.0,1305.2 L941.2,1303.5 L941.4,1303.4 L941.7,1304.1 L941.9,1304.3 L942.1,1302.2 L942.3,1301.3 L942.6,1301.2 L942.8,1302.3 L943.0,1299.4 L943.3,1300.1 L943.5,1298.7 L943.7,1298.7 L944.0,1296.9 L944.2,1297.2 L944.5,1297.1 L944.7,1296.3 L945.0,1294.9 L945.2,1293.8 L945.5,1293.2 L945.7,1291.3 L946.0,1292.4 L946.2,1291.3 L946.5,1289.9 L946.7,1289.7 L947.0,1288.4 L947.2,1287.6 L947.5,1286.5 L947.8,1286.8 L948.0,1286.1 L948.3,1285.4 L948.5,1283.6 L948.8,1284.6 L949.0,1283.7 L949.3,1283.6 L949.5,1283.3 L949.8,1283.8 L950.0,1281.5 L950.3,1282.1 L950.5,1283.3 L950.9,1282.4 L951.3,1281.3 L951.7,1282.4 L952.2,1283.2 L952.6,1282.0 L953.0,1283.5 L953.5,1281.9 L953.9,1284.7 L954.3,1283.9 L954.8,1283.8 L955.2,1286.0 L955.7,1286.1 L956.1,1287.5 L956.5,1287.9 L956.9,1288.6 L957.3,1288.5 L957.7,1290.5 L958.1,1288.7 L958.5,1291.5 L958.8,1291.7 L959.2,1291.1 L959.5,1293.1 L959.8,1292.7 L960.1,1293.3 L960.4,1294.6 L961.0,1293.8 L961.4,1295.0 L961.6,1297.0 L961.7,1296.5 L961.9,1298.5 L962.0,1299.7 L962.3,1299.2 L962.8,1298.4 L963.6,1299.3 L963.8,1299.2 L964.1,1298.7 L964.3,1297.8 L964.6,1298.4 L964.8,1297.7 L965.1,1295.6 L965.4,1295.7 L965.7,1294.5 L966.0,1293.8 L966.4,1294.1 L966.7,1294.8 L967.0,1294.2 L967.4,1291.7 L967.7,1291.2 L968.1,1291.1 L968.5,1291.6 L968.8,1290.3 L969.2,1290.4 L969.6,1287.6 L970.0,1289.3 L970.4,1286.6 L970.7,1287.0 L971.1,1287.0 L971.5,1285.9 L971.9,1283.9 L972.3,1284.5 L972.7,1283.3 L973.0,1281.7 L973.4,1281.9 L973.8,1281.4 L974.1,1281.7 L974.5,1280.3 L974.9,1280.7 L975.2,1280.6 L975.5,1278.9 L975.9,1278.4 L976.2,1279.7 L976.5,1278.9 L976.8,1277.8 L977.3,1277.6 L977.8,1279.7 L978.3,1278.9 L978.8,1278.4 L979.3,1278.2 L979.8,1280.6 L980.3,1280.2 L980.7,1280.8 L981.2,1280.3 L981.7,1280.7 L982.1,1281.5 L982.6,1281.4 L983.0,1283.3 L983.5,1283.4 L983.9,1285.1 L984.3,1284.7 L984.7,1285.4 L985.0,1286.2 L985.4,1287.9 L985.8,1286.9 L986.1,1288.3 L986.4,1287.5 L986.7,1288.8 L987.2,1288.7 L987.5,1291.0 L987.8,1290.1 L988.0,1292.3 L988.1,1292.5 L988.2,1292.6 L988.4,1294.4 L988.5,1293.6 L988.7,1294.9 L989.0,1295.0 L989.5,1294.9 L990.0,1294.1 L990.4,1295.0 L990.8,1294.6 L991.3,1294.9 L991.8,1296.0 L992.3,1294.0 L992.9,1294.7 L993.5,1294.3 L994.1,1292.9 L994.7,1292.9 L995.3,1291.8 L995.9,1293.5 L996.6,1291.5 L997.2,1291.6 L997.9,1291.2 L998.5,1292.3 L999.2,1292.2 L999.8,1291.6 L1000.4,1291.6 L1001.0,1290.6 L1001.6,1293.0 L1001.9,1291.2 L1002.2,1292.2 L1002.6,1292.5 L1002.9,1293.8 L1003.2,1294.1 L1003.6,1293.7 L1003.9,1295.6 L1004.2,1296.2 L1004.6,1294.3 L1004.9,1296.4 L1005.3,1296.6 L1005.6,1296.9 L1006.0,1297.8 L1006.3,1298.0 L1006.6,1299.5 L1007.0,1300.0 L1007.3,1301.6 L1007.7,1302.3 L1008.0,1303.0 L1008.3,1302.1 L1008.7,1303.9 L1009.0,1304.1 L1009.3,1304.9 L1009.6,1306.3 L1009.9,1304.5 L1010.2,1306.2 L1010.5,1306.6 L1010.8,1307.9 L1011.1,1307.3 L1011.4,1309.9 L1011.6,1308.4 L1011.9,1309.3 L1012.1,1309.2 L1012.4,1310.3 L1012.6,1311.6 L1012.8,1310.3 L1013.0,1310.8 L1013.8,1313.4 L1014.4,1314.3 L1014.9,1315.3 L1015.2,1314.4 L1015.5,1316.2 L1015.7,1316.2 L1015.8,1316.5 L1016.0,1316.0" stroke="#555555" stroke-width="2.0" stroke-linejoin="round"/>
<path d="M670.0,1425.0 L670.3,1426.8 L670.5,1424.5 L670.8,1428.9 L671.1,1429.3 L671.4,1429.0 L671.7,1424.5 L672.1,1426.2 L672.4,1427.2 L672.8,1427.1 L673.1,1424.9 L673.5,1428.5 L673.9,1425.9 L674.3,1427.0 L674.7,1425.0 L675.1,1427.3 L675.6,1425.0 L676.0,1424.8 L676.5,1427.0 L676.9,1425.9 L677.4,1428.4 L677.9,1425.6 L678.3,1426.5 L678.8,1424.6 L679.3,1425.5 L679.8,1426.7 L680.3,1427.2 L680.9,1426.7 L681.4,1428.8 L681.9,1424.9 L682.4,1428.7 L683.0,1425.1 L683.5,1429.4 L684.1,1427.0 L684.6,1426.4 L685.2,1427.5 L685.8,1428.8 L686.3,1429.3 L686.9,1426.4 L687.5,1424.3 L688.0,1425.1 L688.6,1428.5 L689.2,1428.1 L689.8,1428.0 L690.4,1425.1 L690.9,1427.0 L691.5,1424.4 L692.1,1424.8 L692.7,1425.8 L693.3,1429.3 L693.9,1427.6 L694.5,1428.6 L695.0,1424.5 L695.6,1426.4 L696.2,1424.6 L696.8,1425.5 L697.4,1424.8 L697.9,1428.9 L698.5,1425.9 L699.1,1426.7 L699.7,1427.5 L700.2,1428.7 L700.8,1429.0 L701.3,1427.0 L701.9,1426.7 L702.5,1428.8 L703.0,1426.1 L703.5,1425.6 L704.1,1427.9 L704.6,1425.4 L705.1,1425.9 L705.7,1426.2 L706.2,1426.4 L706.7,1425.8 L707.2,1426.2 L707.7,1426.2 L708.1,1424.1 L708.6,1428.2 L709.1,1424.2 L709.5,1426.6 L710.0,1426.6 L710.6,1425.8 L711.1,1424.9 L711.7,1424.2 L712.2,1425.6 L712.8,1425.3 L713.3,1426.1 L713.8,1424.8 L714.4,1427.4 L714.9,1426.0 L715.4,1423.5 L715.9,1425.5 L716.4,1428.4 L716.9,1423.4 L717.4,1426.4 L717.9,1428.2 L718.4,1425.1 L718.9,1426.3 L719.4,1425.0 L719.9,1424.6 L720.4,1426.2 L720.9,1426.0 L721.4,1424.5 L721.8,1425.4 L722.3,1425.5 L722.8,1426.7 L723.3,1423.0 L723.7,1423.1 L724.2,1423.9 L724.7,1424.0 L725.2,1426.6 L725.6,1424.7 L726.1,1426.9 L726.6,1424.4 L727.0,1423.8 L727.5,1425.8 L728.0,1422.6 L728.4,1427.2 L728.9,1426.4 L729.4,1423.7 L729.9,1423.6 L730.3,1426.2 L730.8,1425.9 L731.3,1425.1 L731.8,1422.0 L732.3,1425.7 L732.7,1421.9 L733.2,1424.8 L733.7,1424.4 L734.2,1426.3 L734.7,1424.7 L735.2,1421.5 L735.7,1426.2 L736.2,1425.2 L736.7,1424.2 L737.2,1421.2 L737.7,1425.0 L738.3,1423.2 L738.8,1424.6 L739.3,1426.1 L739.9,1425.7 L740.4,1421.3 L740.9,1424.9 L741.5,1423.1 L742.0,1424.7 L742.4,1422.7 L742.9,1423.0 L743.4,1422.9 L743.9,1421.2 L744.3,1422.2 L744.8,1424.4 L745.3,1420.9 L745.8,1421.1 L746.3,1424.8 L746.8,1423.9 L747.4,1423.2 L747.9,1420.9 L748.4,1420.9 L748.9,1421.8 L749.4,1425.2 L750.0,1423.1 L750.5,1424.9 L751.0,1421.2 L751.6,1422.2 L752.1,1422.8 L752.6,1424.3 L753.2,1420.6 L753.7,1424.4 L754.3,1422.3 L754.8,1420.0 L755.4,1422.0 L755.9,1421.7 L756.4,1423.2 L757.0,1424.5 L757.5,1422.2 L758.1,1423.2 L758.6,1421.6 L759.2,1423.5 L759.7,1420.0 L760.3,1423.3 L760.8,1420.3 L761.4,1422.4 L761.9,1420.4 L762.5,1421.1 L763.0,1420.1 L763.5,1421.0 L764.1,1422.2 L764.6,1421.8 L765.2,1421.1 L765.7,1422.1 L766.2,1423.4 L766.8,1420.9 L767.3,1422.0 L767.8,1421.4 L768.3,1424.0 L768.8,1420.6 L769.3,1422.5 L769.9,1420.0 L770.4,1420.2 L770.9,1422.6 L771.4,1421.7 L771.9,1420.1 L772.3,1419.0 L772.8,1423.0 L773.3,1420.6 L773.8,1422.4 L774.2,1420.9 L774.7,1421.8 L775.2,1421.5 L775.6,1423.6 L776.1,1423.3 L776.5,1420.9 L776.9,1421.0 L777.4,1419.7 L777.8,1422.4 L778.2,1419.0 L778.6,1420.0 L779.0,1422.8 L779.4,1418.6 L779.8,1422.0 L780.5,1421.3 L781.3,1421.2 L782.0,1420.1 L782.6,1419.1 L783.3,1423.3 L784.0,1422.3 L784.6,1422.5 L785.2,1418.8 L785.8,1422.4 L786.4,1419.5 L787.0,1419.4 L787.6,1421.1 L788.1,1421.5 L788.7,1419.0 L789.2,1422.4 L789.7,1421.4 L790.2,1423.1 L790.7,1423.2 L791.2,1422.0 L791.7,1420.4 L792.2,1423.5 L792.6,1422.3 L793.1,1420.1 L793.6,1423.1 L794.0,1422.4 L794.4,1420.1 L794.9,1420.0 L795.3,1418.9 L795.7,1421.6 L796.1,1420.2 L796.5,1420.4 L796.9,1420.3 L797.3,1419.7 L797.7,1421.6 L798.1,1420.6 L798.5,1420.7 L798.9,1420.7 L799.3,1422.0 L799.7,1423.9 L800.3,1420.4 L801.0,1424.1 L801.5,1424.2 L802.1,1423.1 L802.6,1423.0 L803.1,1424.1 L803.5,1423.3 L804.0,1424.1 L804.4,1425.6 L804.8,1425.1 L805.2,1422.6 L805.6,1421.8 L806.0,1426.6 L806.4,1423.8 L806.8,1426.2 L807.2,1423.6 L807.6,1424.9 L808.1,1424.7 L808.5,1426.8 L808.9,1428.1 L809.4,1426.0 L809.9,1426.5 L810.4,1425.6 L810.8,1425.2 L811.3,1429.1 L811.7,1424.9 L812.2,1429.4 L812.7,1428.2 L813.2,1425.3 L813.7,1429.9 L814.2,1425.9 L814.6,1428.6 L815.1,1426.5 L815.7,1431.2 L816.2,1427.9 L816.7,1431.0 L817.2,1427.0 L817.7,1430.4 L818.2,1427.5 L818.7,1427.5 L819.2,1430.5 L819.7,1432.8 L820.2,1431.4 L820.7,1432.4 L821.2,1432.2 L821.7,1430.9 L822.2,1428.7 L822.6,1431.1 L823.1,1429.3 L823.6,1431.1 L824.0,1430.2 L824.5,1431.0 L825.0,1429.3 L825.5,1431.9 L825.9,1430.2 L826.4,1430.4 L826.8,1428.2 L827.2,1430.1 L827.7,1430.2 L828.1,1432.1 L828.5,1429.8 L828.9,1427.3 L829.3,1427.9 L829.7,1427.8 L830.2,1429.4 L830.6,1430.3 L831.0,1430.2 L831.5,1429.8 L831.9,1429.4 L832.4,1428.7 L832.9,1428.9 L833.4,1423.8 L833.9,1426.0 L834.4,1426.3 L835.0,1426.6 L835.4,1426.0 L835.8,1425.9 L836.2,1427.4 L836.7,1422.8 L837.1,1424.9 L837.5,1427.0 L838.0,1422.0 L838.4,1422.3 L838.9,1426.0 L839.3,1426.3 L839.8,1421.3 L840.3,1421.1 L840.8,1425.1 L841.2,1424.2 L841.7,1423.2 L842.2,1423.3 L842.7,1424.1 L843.2,1424.1 L843.7,1419.8 L844.2,1420.0 L844.7,1423.6 L845.2,1424.4 L845.7,1423.5 L846.2,1421.2 L846.8,1420.6 L847.3,1420.6 L847.8,1418.7 L848.3,1422.5 L848.8,1419.8 L849.4,1421.4 L849.9,1421.0 L850.4,1419.9 L851.0,1421.6 L851.5,1420.4 L852.0,1419.2 L852.4,1422.5 L852.9,1418.8 L853.4,1418.6 L853.9,1419.1 L854.4,1420.3 L854.9,1421.8 L855.5,1419.5 L856.0,1419.0 L856.5,1421.1 L857.0,1419.1 L857.6,1420.4 L858.1,1419.0 L858.6,1422.3 L859.2,1418.7 L859.7,1419.0 L860.3,1419.3 L860.8,1419.5 L861.3,1421.6 L861.9,1421.3 L862.4,1422.0 L863.0,1420.7 L863.5,1418.3 L864.0,1422.0 L864.5,1419.3 L865.1,1419.2 L865.6,1420.3 L866.1,1423.3 L866.6,1420.1 L867.1,1420.1 L867.6,1423.1 L868.1,1423.5 L868.6,1420.4 L869.1,1419.2 L869.5,1422.7 L870.0,1422.7 L870.4,1420.4 L870.9,1422.8 L871.3,1420.8 L871.9,1420.4 L872.4,1422.1 L872.9,1423.0 L873.4,1421.7 L873.9,1423.7 L874.3,1419.6 L874.7,1422.3 L875.1,1421.9 L875.5,1420.4 L875.8,1425.0 L876.2,1421.2 L876.5,1421.7 L876.9,1425.4 L877.3,1426.0 L877.6,1426.0 L878.0,1423.1 L878.4,1426.4 L878.9,1422.5 L879.3,1425.6 L879.8,1427.0 L880.4,1423.2 L880.9,1423.1 L881.5,1426.1 L882.2,1427.3 L882.9,1426.6 L883.7,1427.8 L884.5,1425.4 L884.9,1425.0 L885.2,1423.7 L885.6,1424.5 L886.0,1428.0 L886.4,1423.5 L886.8,1424.2 L887.2,1425.0 L887.6,1423.5 L888.0,1424.9 L888.4,1424.3 L888.9,1424.0 L889.3,1426.1 L889.7,1426.2 L890.2,1426.4 L890.7,1427.4 L891.1,1426.2 L891.6,1428.4 L892.1,1423.9 L892.6,1424.7 L893.0,1423.9 L893.5,1425.1 L894.0,1427.5 L894.5,1428.4 L895.0,1426.2 L895.6,1424.4 L896.1,1425.3 L896.6,1426.6 L897.1,1425.2 L897.6,1427.8 L898.2,1428.7 L898.7,1426.0 L899.2,1426.8 L899.8,1428.1 L900.3,1426.1 L900.8,1424.7 L901.4,1428.6 L901.9,1428.8 L902.5,1423.8 L903.0,1427.7 L903.6,1425.8 L904.1,1424.0 L904.7,1424.6 L905.2,1424.6 L905.8,1427.5 L906.3,1424.8 L906.9,1423.8 L907.4,1424.9 L908.0,1427.9 L908.5,1426.3 L909.1,1427.1 L909.6,1426.2 L910.1,1424.7 L910.7,1423.8 L911.2,1425.3 L911.8,1424.0 L912.3,1425.1 L912.8,1427.0 L913.4,1425.7 L913.9,1426.2 L914.4,1427.0 L914.9,1425.4 L915.5,1425.6 L916.0,1428.4 L916.5,1426.8 L917.0,1426.0 L917.5,1426.6 L918.0,1426.2 L918.5,1425.5 L919.0,1428.6 L919.5,1425.0 L920.0,1428.7 L920.5,1428.3 L921.0,1428.4 L921.6,1424.7 L922.1,1426.5 L922.6,1429.0 L923.1,1425.4 L923.6,1424.8 L924.1,1427.6 L924.6,1425.1 L925.2,1426.9 L925.7,1424.7 L926.2,1428.8 L926.7,1425.4 L927.2,1424.4 L927.8,1427.5 L928.3,1425.7 L928.8,1426.9 L929.3,1426.5 L929.8,1428.8 L930.4,1426.6 L930.9,1425.9 L931.4,1424.0 L931.9,1426.6 L932.4,1425.4 L933.0,1427.0 L933.5,1427.3 L934.0,1426.4 L934.5,1424.5 L935.0,1426.6 L935.5,1426.5 L936.1,1427.3 L936.6,1429.1 L937.1,1425.5 L937.6,1426.3 L938.1,1424.5 L938.6,1428.2 L939.1,1425.2 L939.6,1428.3 L940.1,1428.2 L940.6,1425.3 L941.1,1428.7 L941.6,1426.6 L942.1,1426.2 L942.6,1426.9 L943.1,1428.9 L943.6,1426.5 L944.0,1426.5 L944.5,1425.5 L945.0,1428.3 L945.5,1426.6 L946.0,1425.7 L946.4,1425.0 L946.9,1425.0 L947.4,1428.2 L947.8,1428.1 L948.3,1429.0 L948.7,1428.6 L949.2,1427.4 L949.6,1428.0 L950.1,1427.5 L950.5,1428.0 L951.1,1427.9 L951.7,1424.7 L952.2,1428.0 L952.8,1425.3 L953.4,1424.9 L953.9,1428.4 L954.5,1423.7 L955.0,1426.2 L955.5,1425.3 L956.1,1427.6 L956.6,1426.6 L957.1,1428.1 L957.6,1428.2 L958.2,1426.6 L958.7,1423.6 L959.2,1426.7 L959.7,1423.7 L960.2,1428.2 L960.7,1427.6 L961.2,1424.6 L961.7,1423.9 L962.1,1426.5 L962.6,1426.8 L963.1,1427.9 L963.6,1426.0 L964.1,1423.3 L964.6,1426.4 L965.0,1422.9 L965.5,1427.0 L966.0,1426.5 L966.5,1426.5 L966.9,1426.9 L967.4,1425.2 L967.9,1427.1 L968.4,1425.5 L968.9,1424.7 L969.3,1424.1 L969.8,1423.8 L970.3,1422.1 L970.8,1422.7 L971.3,1426.0 L971.7,1423.0 L972.2,1425.1 L972.7,1425.7 L973.2,1425.2 L973.7,1424.2 L974.2,1423.1 L974.7,1422.9 L975.2,1422.4 L975.7,1424.7 L976.2,1424.9 L976.7,1426.1 L977.2,1422.9 L977.8,1425.9 L978.3,1425.8 L978.8,1422.5 L979.3,1425.9 L979.9,1424.1 L980.4,1425.8 L980.9,1424.7 L981.5,1422.4 L982.0,1422.0 L982.5,1423.2 L983.1,1422.9 L983.6,1420.5 L984.1,1424.7 L984.7,1423.0 L985.2,1422.6 L985.7,1423.9 L986.3,1421.2 L986.8,1420.9 L987.3,1422.8 L987.9,1421.0 L988.4,1421.4 L988.9,1419.9 L989.5,1419.8 L990.0,1421.3 L990.5,1422.1 L991.0,1424.3 L991.5,1422.6 L992.0,1421.4 L992.6,1421.3 L993.1,1420.3 L993.6,1421.5 L994.0,1424.0 L994.5,1419.6 L995.0,1421.2 L995.5,1422.5 L996.0,1422.8 L996.5,1421.7 L996.9,1422.2 L997.4,1423.7 L997.8,1423.5 L998.3,1420.1 L998.7,1421.6 L999.2,1424.0 L999.6,1421.5 L1000.0,1419.8 L1000.6,1422.8 L1001.2,1419.2 L1001.8,1419.7 L1002.5,1421.9 L1003.1,1420.5 L1003.7,1422.9 L1004.3,1423.1 L1004.8,1421.1 L1005.4,1423.6 L1006.0,1423.1 L1006.6,1423.5 L1007.1,1422.4 L1007.7,1422.4 L1008.2,1420.9 L1008.8,1423.0 L1009.3,1425.6 L1009.8,1425.4 L1010.3,1421.3 L1010.8,1421.5 L1011.3,1422.7 L1011.7,1425.1 L1012.2,1423.9 L1012.6,1422.5 L1013.0,1424.2 L1013.4,1425.1 L1013.8,1426.1 L1014.2,1424.5 L1014.5,1425.9 L1014.9,1426.2 L1015.2,1426.0 L1015.5,1423.1 L1015.7,1426.6 L1016.0,1425.6" stroke="#555555" stroke-width="1.8" stroke-linejoin="round"/>
<path d="M723.8,1427 V1218" stroke="#555555" stroke-width="2.2"/>
<path d="M694.8,1205.3 L714.3,1219.7" stroke="#222" stroke-width="1.3"/>
<path d="M721.6,1225 L712.5,1222.2 L716.2,1217.1 Z" fill="#222" stroke="none"/>
<path d="M812,1188.4 L793.2,1202.3" stroke="#222" stroke-width="1.3"/>
<path d="M786,1207.6 L791.3,1199.7 L795.1,1204.8 Z" fill="#222" stroke="none"/>
<path d="M868.8,1254.8 L860.6,1275.3" stroke="#222" stroke-width="1.3"/>
<path d="M857.3,1283.7 L857.7,1274.2 L863.6,1276.5 Z" fill="#222" stroke="none"/>
<text x="679" y="1199" font-size="17" fill="#151515" stroke="none"><tspan font-style="italic">I</tspan><tspan font-size="11" dy="1">изл</tspan></text>
<text x="816" y="1191" font-size="17" fill="#151515" stroke="none"><tspan font-style="italic">U</tspan><tspan font-size="11" dy="1">инд</tspan></text>
<text x="865" y="1248" font-size="17" fill="#151515" stroke="none"><tspan font-style="italic">I</tspan><tspan font-size="11" dy="1">инд</tspan></text>
</svg>
</body></html>
